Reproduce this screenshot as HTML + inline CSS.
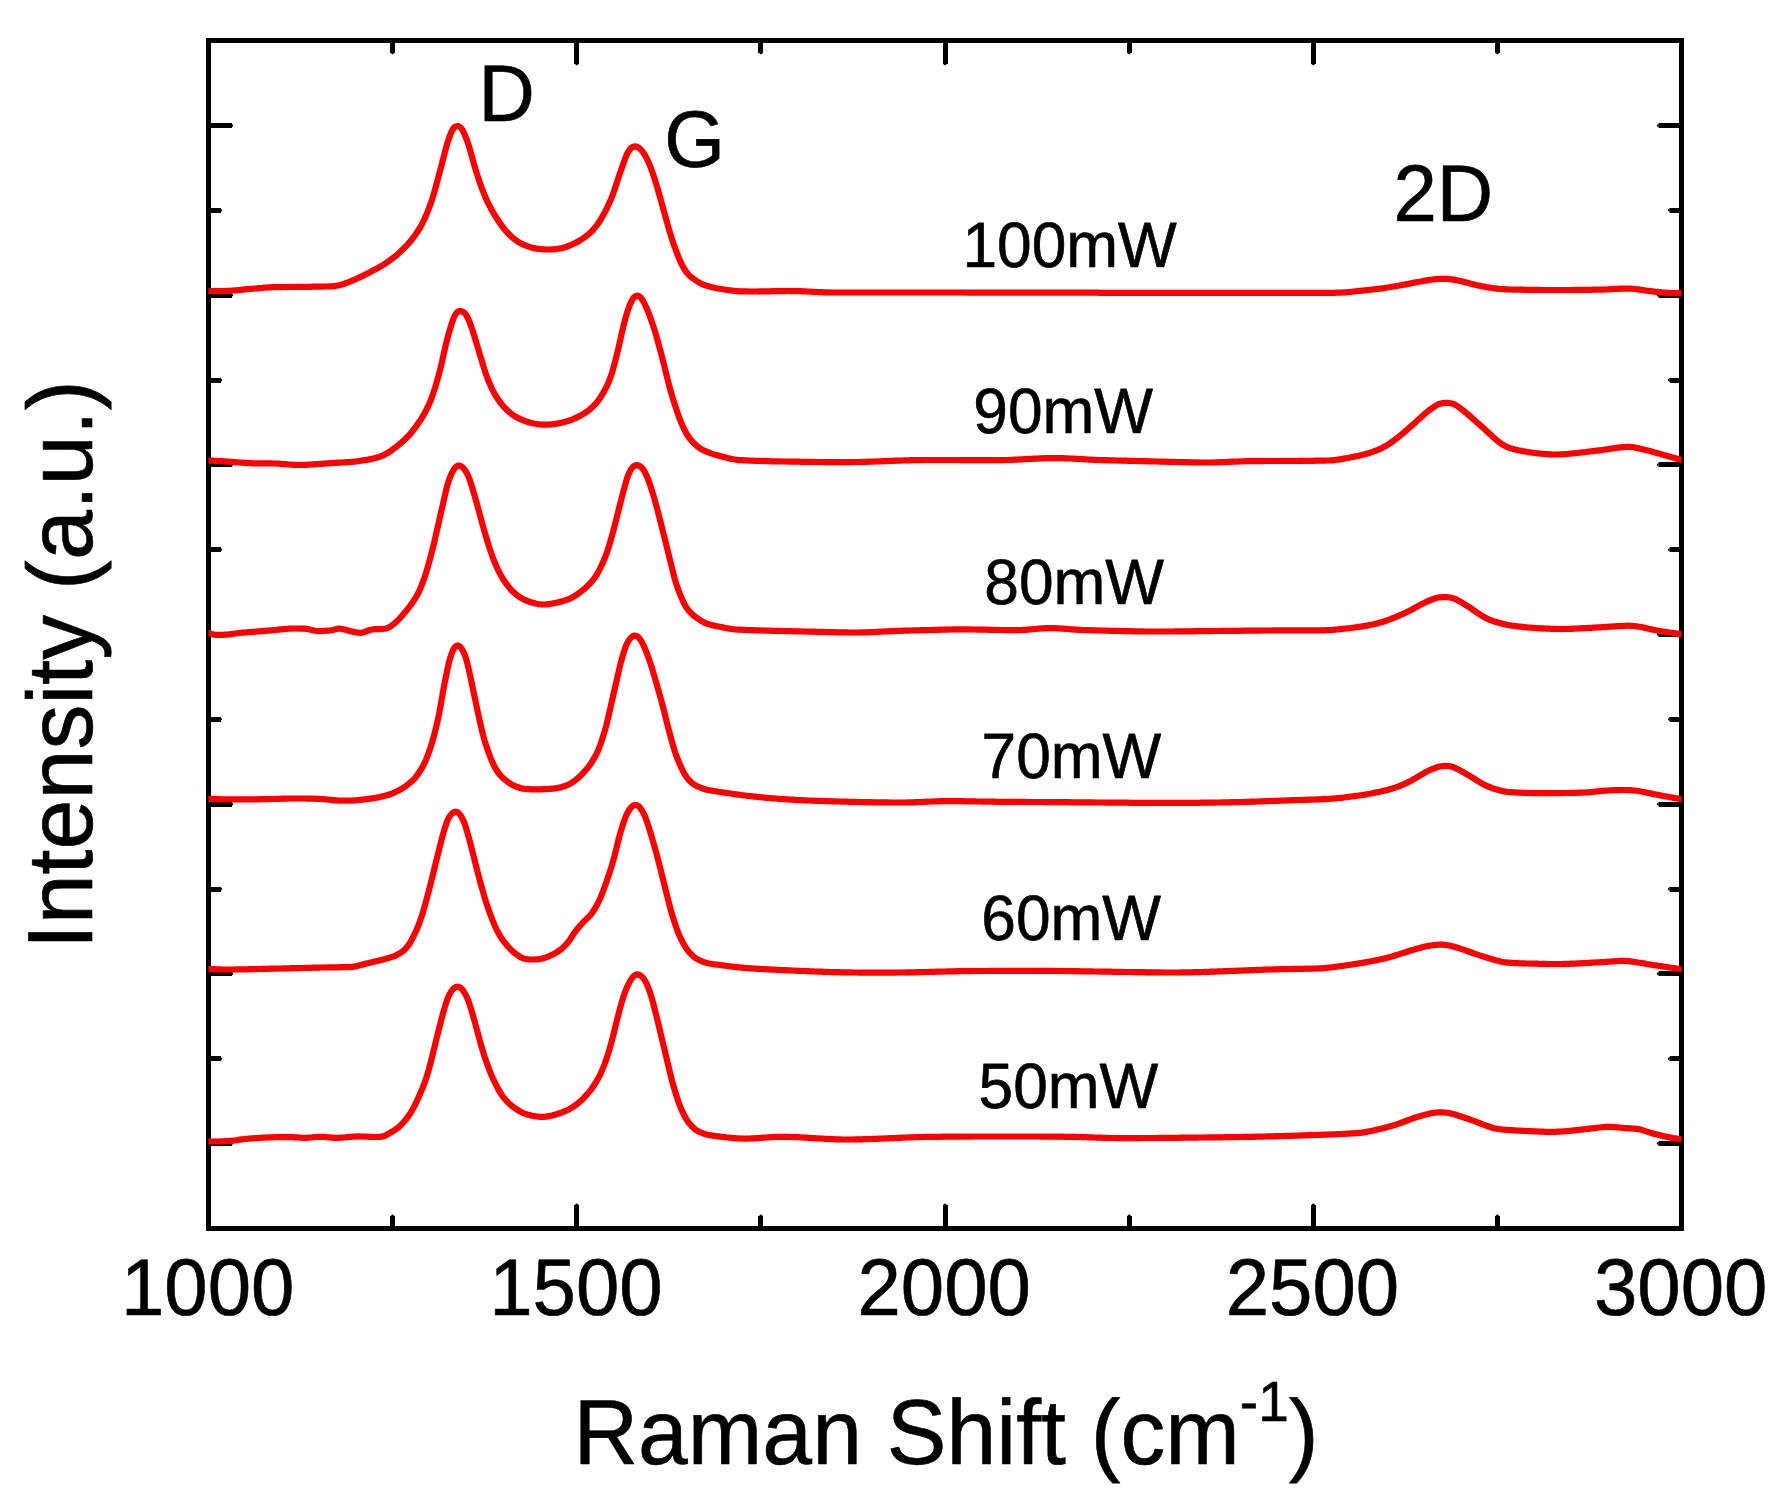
<!DOCTYPE html>
<html lang="en"><head><meta charset="utf-8"><title>Raman spectra</title>
<style>html,body{margin:0;padding:0;background:#fff}svg{display:block}</style></head>
<body>
<svg width="1792" height="1495" viewBox="0 0 1792 1495" shape-rendering="crispEdges" text-rendering="geometricPrecision">
<rect x="0" y="0" width="1792" height="1495" fill="#fff"/>
<path d="M208.5 40.7H1681.5V1228.1H208.5ZM576.75 40.7v23.0M576.75 1228.1v-23.0M945.00 40.7v23.0M945.00 1228.1v-23.0M1313.25 40.7v23.0M1313.25 1228.1v-23.0M392.62 40.7v12.0M392.62 1228.1v-12.0M760.88 40.7v12.0M760.88 1228.1v-12.0M1129.12 40.7v12.0M1129.12 1228.1v-12.0M1497.38 40.7v12.0M1497.38 1228.1v-12.0M208.5 125.50h23.0M1681.5 125.50h-23.0M208.5 295.17h23.0M1681.5 295.17h-23.0M208.5 464.83h23.0M1681.5 464.83h-23.0M208.5 634.50h23.0M1681.5 634.50h-23.0M208.5 804.17h23.0M1681.5 804.17h-23.0M208.5 973.83h23.0M1681.5 973.83h-23.0M208.5 1143.50h23.0M1681.5 1143.50h-23.0M208.5 210.33h12.0M1681.5 210.33h-12.0M208.5 380.00h12.0M1681.5 380.00h-12.0M208.5 549.67h12.0M1681.5 549.67h-12.0M208.5 719.33h12.0M1681.5 719.33h-12.0M208.5 889.00h12.0M1681.5 889.00h-12.0M208.5 1058.67h12.0M1681.5 1058.67h-12.0" fill="none" stroke="#000" stroke-width="5.0" stroke-linejoin="miter" stroke-linecap="butt"/>
<path d="M574.25 63.40h5.0l-2.5 2.2zM574.25 1205.40h5.0l-2.5 -2.2zM942.50 63.40h5.0l-2.5 2.2zM942.50 1205.40h5.0l-2.5 -2.2zM1310.75 63.40h5.0l-2.5 2.2zM1310.75 1205.40h5.0l-2.5 -2.2zM390.12 52.40h5.0l-2.5 2.2zM390.12 1216.40h5.0l-2.5 -2.2zM758.38 52.40h5.0l-2.5 2.2zM758.38 1216.40h5.0l-2.5 -2.2zM1126.62 52.40h5.0l-2.5 2.2zM1126.62 1216.40h5.0l-2.5 -2.2zM1494.88 52.40h5.0l-2.5 2.2zM1494.88 1216.40h5.0l-2.5 -2.2zM231.20 123.00v5.0l2.2 -2.5zM1658.80 123.00v5.0l-2.2 -2.5zM231.20 292.67v5.0l2.2 -2.5zM1658.80 292.67v5.0l-2.2 -2.5zM231.20 462.33v5.0l2.2 -2.5zM1658.80 462.33v5.0l-2.2 -2.5zM231.20 632.00v5.0l2.2 -2.5zM1658.80 632.00v5.0l-2.2 -2.5zM231.20 801.67v5.0l2.2 -2.5zM1658.80 801.67v5.0l-2.2 -2.5zM231.20 971.33v5.0l2.2 -2.5zM1658.80 971.33v5.0l-2.2 -2.5zM231.20 1141.00v5.0l2.2 -2.5zM1658.80 1141.00v5.0l-2.2 -2.5zM220.20 207.83v5.0l2.2 -2.5zM1669.80 207.83v5.0l-2.2 -2.5zM220.20 377.50v5.0l2.2 -2.5zM1669.80 377.50v5.0l-2.2 -2.5zM220.20 547.17v5.0l2.2 -2.5zM1669.80 547.17v5.0l-2.2 -2.5zM220.20 716.83v5.0l2.2 -2.5zM1669.80 716.83v5.0l-2.2 -2.5zM220.20 886.50v5.0l2.2 -2.5zM1669.80 886.50v5.0l-2.2 -2.5zM220.20 1056.17v5.0l2.2 -2.5zM1669.80 1056.17v5.0l-2.2 -2.5z" fill="#000" stroke="none" shape-rendering="geometricPrecision"/>
<clipPath id="plotclip"><rect x="208.5" y="40.7" width="1473.0" height="1187.3999999999999"/></clipPath>
<g clip-path="url(#plotclip)" fill="none" stroke="#f00" stroke-width="6.2" stroke-linejoin="round" stroke-linecap="butt" shape-rendering="geometricPrecision">
<polyline points="202.5,291.0 208.5,291.1 210.0,291.1 211.5,291.1 213.0,291.1 214.5,291.2 216.0,291.2 217.5,291.1 219.0,291.1 220.5,291.1 222.0,291.1 223.5,291.0 225.0,291.0 226.5,290.9 228.0,290.8 229.5,290.8 231.0,290.7 232.5,290.5 234.0,290.4 235.5,290.3 237.0,290.2 238.5,290.0 240.0,289.9 241.5,289.7 243.0,289.6 244.5,289.4 246.0,289.3 247.5,289.1 249.0,289.0 250.5,288.9 252.0,288.7 253.5,288.6 255.0,288.5 256.5,288.4 258.0,288.2 259.5,288.1 261.0,288.0 262.5,287.8 264.0,287.7 265.5,287.6 267.0,287.5 268.5,287.4 270.0,287.3 271.5,287.3 273.0,287.2 274.5,287.2 276.0,287.1 277.5,287.1 279.0,287.1 280.5,287.1 282.0,287.1 283.5,287.0 285.0,287.0 286.5,287.0 288.0,287.0 289.5,287.0 291.0,287.0 292.5,287.0 294.0,287.0 295.5,287.0 297.0,286.9 298.5,286.9 300.0,286.9 301.5,286.9 303.0,286.9 304.5,286.8 306.0,286.8 307.5,286.8 309.0,286.8 310.5,286.8 312.0,286.7 313.5,286.7 315.0,286.7 316.5,286.7 318.0,286.6 319.5,286.6 321.0,286.6 322.5,286.6 324.0,286.5 325.5,286.5 327.0,286.5 328.5,286.4 330.0,286.4 331.5,286.3 333.0,286.2 334.5,286.1 336.0,285.8 337.5,285.6 339.0,285.2 340.5,284.9 342.0,284.4 343.5,284.0 345.0,283.5 346.5,282.9 348.0,282.4 349.5,281.8 351.0,281.2 352.5,280.5 354.0,279.9 355.5,279.2 357.0,278.5 358.5,277.8 360.0,277.1 361.5,276.4 363.0,275.7 364.5,274.9 366.0,274.2 367.5,273.4 369.0,272.7 370.5,271.9 372.0,271.1 373.5,270.3 375.0,269.5 376.5,268.7 378.0,267.9 379.5,267.0 381.0,266.2 382.5,265.3 384.0,264.4 385.5,263.4 387.0,262.4 388.5,261.3 390.0,260.2 391.5,259.1 393.0,258.0 394.5,256.8 396.0,255.6 397.5,254.3 399.0,252.9 400.5,251.5 402.0,250.1 403.5,248.6 405.0,247.1 406.5,245.6 408.0,244.0 409.5,242.3 411.0,240.5 412.5,238.6 414.0,236.6 415.5,234.5 417.0,232.4 418.5,230.2 420.0,227.7 421.5,224.9 423.0,221.9 424.5,218.8 426.0,215.4 427.5,211.9 429.0,208.2 430.5,204.2 432.0,199.7 433.5,194.8 435.0,189.5 436.5,184.1 438.0,178.5 439.5,172.9 441.0,167.3 442.5,161.4 444.0,155.6 445.5,149.8 447.0,144.4 448.5,139.6 450.0,135.4 451.5,131.6 453.0,128.9 454.5,127.1 456.0,126.2 457.5,126.0 459.0,126.4 460.5,127.5 462.0,129.3 463.5,131.9 465.0,135.3 466.5,139.1 468.0,143.3 469.5,148.0 471.0,153.3 472.5,158.8 474.0,164.3 475.5,169.3 477.0,174.1 478.5,178.7 480.0,183.1 481.5,187.3 483.0,191.2 484.5,195.0 486.0,198.5 487.5,201.8 489.0,204.8 490.5,207.7 492.0,210.4 493.5,213.1 495.0,215.6 496.5,218.0 498.0,220.3 499.5,222.5 501.0,224.7 502.5,226.7 504.0,228.7 505.5,230.5 507.0,232.2 508.5,233.8 510.0,235.3 511.5,236.7 513.0,238.0 514.5,239.2 516.0,240.3 517.5,241.4 519.0,242.3 520.5,243.2 522.0,243.9 523.5,244.6 525.0,245.2 526.5,245.8 528.0,246.4 529.5,246.9 531.0,247.4 532.5,247.8 534.0,248.1 535.5,248.4 537.0,248.6 538.5,248.9 540.0,249.0 541.5,249.2 543.0,249.3 544.5,249.4 546.0,249.5 547.5,249.5 549.0,249.5 550.5,249.5 552.0,249.4 553.5,249.3 555.0,249.2 556.5,249.0 558.0,248.8 559.5,248.5 561.0,248.2 562.5,247.9 564.0,247.5 565.5,247.1 567.0,246.5 568.5,246.0 570.0,245.3 571.5,244.7 573.0,244.0 574.5,243.3 576.0,242.6 577.5,241.8 579.0,240.9 580.5,240.0 582.0,239.0 583.5,238.0 585.0,236.9 586.5,235.8 588.0,234.6 589.5,233.4 591.0,232.0 592.5,230.5 594.0,228.8 595.5,227.0 597.0,225.0 598.5,222.9 600.0,220.7 601.5,218.2 603.0,215.5 604.5,212.7 606.0,209.8 607.5,206.8 609.0,203.6 610.5,200.3 612.0,196.6 613.5,192.6 615.0,188.2 616.5,183.7 618.0,179.1 619.5,174.6 621.0,170.2 622.5,165.9 624.0,161.7 625.5,157.7 627.0,154.1 628.5,151.4 630.0,149.3 631.5,147.8 633.0,146.8 634.5,146.4 636.0,146.5 637.5,147.1 639.0,147.9 640.5,149.2 642.0,150.9 643.5,153.0 645.0,155.3 646.5,158.1 648.0,161.2 649.5,164.6 651.0,168.3 652.5,172.5 654.0,177.0 655.5,181.7 657.0,186.6 658.5,191.8 660.0,197.2 661.5,202.5 663.0,207.9 664.5,213.3 666.0,218.7 667.5,224.0 669.0,229.4 670.5,234.6 672.0,239.3 673.5,243.7 675.0,247.8 676.5,252.0 678.0,255.9 679.5,259.6 681.0,263.0 682.5,265.9 684.0,268.5 685.5,270.8 687.0,272.8 688.5,274.6 690.0,276.1 691.5,277.3 693.0,278.4 694.5,279.5 696.0,280.5 697.5,281.5 699.0,282.5 700.5,283.3 702.0,284.1 703.5,284.7 705.0,285.2 706.5,285.6 708.0,286.1 709.5,286.5 711.0,286.9 712.5,287.3 714.0,287.6 715.5,288.0 717.0,288.3 718.5,288.5 720.0,288.8 721.5,289.0 723.0,289.3 724.5,289.5 726.0,289.8 727.5,290.0 729.0,290.2 730.5,290.4 732.0,290.6 733.5,290.8 735.0,291.0 736.5,291.1 738.0,291.2 739.5,291.3 741.0,291.3 742.5,291.4 744.0,291.4 745.5,291.4 747.0,291.4 748.5,291.5 750.0,291.5 751.5,291.5 753.0,291.5 754.5,291.5 756.0,291.5 757.5,291.5 759.0,291.4 760.5,291.4 762.0,291.4 763.5,291.4 765.0,291.4 766.5,291.3 768.0,291.3 769.5,291.3 771.0,291.3 772.5,291.2 774.0,291.2 775.5,291.2 777.0,291.2 778.5,291.1 780.0,291.1 781.5,291.1 783.0,291.1 784.5,291.1 786.0,291.1 787.5,291.0 789.0,291.0 790.5,291.1 792.0,291.1 793.5,291.1 795.0,291.1 796.5,291.1 798.0,291.1 799.5,291.2 801.0,291.2 802.5,291.3 804.0,291.3 805.5,291.4 807.0,291.5 808.5,291.5 810.0,291.6 811.5,291.7 813.0,291.8 814.5,291.8 816.0,291.9 817.5,292.0 819.0,292.1 820.5,292.1 822.0,292.2 823.5,292.3 825.0,292.3 826.5,292.4 828.0,292.4 829.5,292.4 831.0,292.5 832.5,292.5 834.0,292.5 835.5,292.5 837.0,292.5 838.5,292.5 840.0,292.5 841.5,292.5 843.0,292.5 844.5,292.5 846.0,292.5 847.5,292.5 849.0,292.5 850.5,292.5 852.0,292.5 853.5,292.5 855.0,292.5 856.5,292.5 858.0,292.5 859.5,292.5 861.0,292.5 862.5,292.5 864.0,292.5 865.5,292.5 867.0,292.5 868.5,292.5 870.0,292.5 871.5,292.5 873.0,292.5 874.5,292.5 876.0,292.5 877.5,292.5 879.0,292.5 880.5,292.5 882.0,292.5 883.5,292.5 885.0,292.5 886.5,292.5 888.0,292.5 889.5,292.5 891.0,292.5 892.5,292.5 894.0,292.5 895.5,292.5 897.0,292.5 898.5,292.5 900.0,292.5 901.5,292.5 903.0,292.5 904.5,292.5 906.0,292.5 907.5,292.5 909.0,292.5 910.5,292.5 912.0,292.5 913.5,292.5 915.0,292.5 916.5,292.5 918.0,292.5 919.5,292.5 921.0,292.5 922.5,292.5 924.0,292.5 925.5,292.5 927.0,292.5 928.5,292.5 930.0,292.5 931.5,292.5 933.0,292.5 934.5,292.5 936.0,292.5 937.5,292.5 939.0,292.5 940.5,292.5 942.0,292.5 943.5,292.5 945.0,292.5 946.5,292.5 948.0,292.5 949.5,292.5 951.0,292.5 952.5,292.5 954.0,292.5 955.5,292.5 957.0,292.5 958.5,292.5 960.0,292.5 961.5,292.5 963.0,292.5 964.5,292.5 966.0,292.5 967.5,292.6 969.0,292.6 970.5,292.6 972.0,292.6 973.5,292.6 975.0,292.6 976.5,292.6 978.0,292.6 979.5,292.6 981.0,292.6 982.5,292.6 984.0,292.6 985.5,292.6 987.0,292.6 988.5,292.6 990.0,292.6 991.5,292.6 993.0,292.6 994.5,292.6 996.0,292.6 997.5,292.6 999.0,292.6 1000.5,292.6 1002.0,292.6 1003.5,292.6 1005.0,292.6 1006.5,292.6 1008.0,292.6 1009.5,292.6 1011.0,292.6 1012.5,292.6 1014.0,292.6 1015.5,292.6 1017.0,292.6 1018.5,292.6 1020.0,292.6 1021.5,292.6 1023.0,292.6 1024.5,292.6 1026.0,292.6 1027.5,292.6 1029.0,292.6 1030.5,292.6 1032.0,292.7 1033.5,292.7 1035.0,292.7 1036.5,292.7 1038.0,292.7 1039.5,292.7 1041.0,292.7 1042.5,292.7 1044.0,292.7 1045.5,292.7 1047.0,292.7 1048.5,292.7 1050.0,292.7 1051.5,292.7 1053.0,292.7 1054.5,292.7 1056.0,292.7 1057.5,292.7 1059.0,292.7 1060.5,292.7 1062.0,292.7 1063.5,292.7 1065.0,292.7 1066.5,292.7 1068.0,292.7 1069.5,292.7 1071.0,292.7 1072.5,292.7 1074.0,292.7 1075.5,292.7 1077.0,292.7 1078.5,292.7 1080.0,292.7 1081.5,292.7 1083.0,292.7 1084.5,292.7 1086.0,292.7 1087.5,292.7 1089.0,292.7 1090.5,292.7 1092.0,292.7 1093.5,292.7 1095.0,292.7 1096.5,292.7 1098.0,292.7 1099.5,292.8 1101.0,292.8 1102.5,292.8 1104.0,292.8 1105.5,292.8 1107.0,292.8 1108.5,292.8 1110.0,292.8 1111.5,292.8 1113.0,292.8 1114.5,292.8 1116.0,292.8 1117.5,292.8 1119.0,292.8 1120.5,292.8 1122.0,292.8 1123.5,292.8 1125.0,292.8 1126.5,292.8 1128.0,292.8 1129.5,292.8 1131.0,292.8 1132.5,292.8 1134.0,292.8 1135.5,292.8 1137.0,292.8 1138.5,292.8 1140.0,292.8 1141.5,292.8 1143.0,292.8 1144.5,292.8 1146.0,292.8 1147.5,292.8 1149.0,292.8 1150.5,292.8 1152.0,292.8 1153.5,292.8 1155.0,292.8 1156.5,292.8 1158.0,292.8 1159.5,292.8 1161.0,292.8 1162.5,292.8 1164.0,292.8 1165.5,292.8 1167.0,292.8 1168.5,292.8 1170.0,292.8 1171.5,292.8 1173.0,292.8 1174.5,292.8 1176.0,292.8 1177.5,292.8 1179.0,292.8 1180.5,292.8 1182.0,292.8 1183.5,292.8 1185.0,292.8 1186.5,292.8 1188.0,292.8 1189.5,292.9 1191.0,292.9 1192.5,292.9 1194.0,292.9 1195.5,292.9 1197.0,292.9 1198.5,292.9 1200.0,292.9 1201.5,292.9 1203.0,292.9 1204.5,292.9 1206.0,292.9 1207.5,292.9 1209.0,292.9 1210.5,292.9 1212.0,292.9 1213.5,292.9 1215.0,292.9 1216.5,292.9 1218.0,292.9 1219.5,292.9 1221.0,292.9 1222.5,292.9 1224.0,292.9 1225.5,292.9 1227.0,292.9 1228.5,292.9 1230.0,292.9 1231.5,292.9 1233.0,292.9 1234.5,292.9 1236.0,292.9 1237.5,292.9 1239.0,292.9 1240.5,292.9 1242.0,292.9 1243.5,292.9 1245.0,292.9 1246.5,292.9 1248.0,292.9 1249.5,292.9 1251.0,292.9 1252.5,292.9 1254.0,292.9 1255.5,292.9 1257.0,292.9 1258.5,292.9 1260.0,292.9 1261.5,292.9 1263.0,292.9 1264.5,292.9 1266.0,292.9 1267.5,292.9 1269.0,292.9 1270.5,292.9 1272.0,292.9 1273.5,292.9 1275.0,292.9 1276.5,292.9 1278.0,292.9 1279.5,292.9 1281.0,292.9 1282.5,292.9 1284.0,292.9 1285.5,292.9 1287.0,292.9 1288.5,292.9 1290.0,292.9 1291.5,292.9 1293.0,292.9 1294.5,292.9 1296.0,292.9 1297.5,292.9 1299.0,292.9 1300.5,292.9 1302.0,292.9 1303.5,292.9 1305.0,292.9 1306.5,292.9 1308.0,292.9 1309.5,292.9 1311.0,292.9 1312.5,292.9 1314.0,292.9 1315.5,292.9 1317.0,292.9 1318.5,292.9 1320.0,292.9 1321.5,292.9 1323.0,292.9 1324.5,292.9 1326.0,292.9 1327.5,292.9 1329.0,292.9 1330.5,292.8 1332.0,292.8 1333.5,292.8 1335.0,292.8 1336.5,292.7 1338.0,292.7 1339.5,292.7 1341.0,292.6 1342.5,292.5 1344.0,292.4 1345.5,292.3 1347.0,292.2 1348.5,292.0 1350.0,291.9 1351.5,291.7 1353.0,291.5 1354.5,291.4 1356.0,291.2 1357.5,291.0 1359.0,290.9 1360.5,290.8 1362.0,290.6 1363.5,290.5 1365.0,290.3 1366.5,290.1 1368.0,290.0 1369.5,289.8 1371.0,289.7 1372.5,289.5 1374.0,289.3 1375.5,289.2 1377.0,289.0 1378.5,288.8 1380.0,288.6 1381.5,288.4 1383.0,288.2 1384.5,288.0 1386.0,287.7 1387.5,287.5 1389.0,287.3 1390.5,287.0 1392.0,286.8 1393.5,286.5 1395.0,286.3 1396.5,286.0 1398.0,285.7 1399.5,285.5 1401.0,285.2 1402.5,284.9 1404.0,284.7 1405.5,284.4 1407.0,284.1 1408.5,283.8 1410.0,283.5 1411.5,283.2 1413.0,282.9 1414.5,282.6 1416.0,282.3 1417.5,282.0 1419.0,281.7 1420.5,281.5 1422.0,281.2 1423.5,280.9 1425.0,280.6 1426.5,280.4 1428.0,280.1 1429.5,279.9 1431.0,279.7 1432.5,279.5 1434.0,279.3 1435.5,279.2 1437.0,279.1 1438.5,279.0 1440.0,278.9 1441.5,278.8 1443.0,278.8 1444.5,278.8 1446.0,278.8 1447.5,278.9 1449.0,279.1 1450.5,279.2 1452.0,279.4 1453.5,279.6 1455.0,279.9 1456.5,280.2 1458.0,280.5 1459.5,280.8 1461.0,281.1 1462.5,281.5 1464.0,281.9 1465.5,282.2 1467.0,282.6 1468.5,283.1 1470.0,283.5 1471.5,283.9 1473.0,284.3 1474.5,284.6 1476.0,285.0 1477.5,285.3 1479.0,285.6 1480.5,285.9 1482.0,286.2 1483.5,286.5 1485.0,286.8 1486.5,287.1 1488.0,287.3 1489.5,287.6 1491.0,287.8 1492.5,288.0 1494.0,288.2 1495.5,288.4 1497.0,288.6 1498.5,288.7 1500.0,288.9 1501.5,289.0 1503.0,289.1 1504.5,289.2 1506.0,289.3 1507.5,289.4 1509.0,289.5 1510.5,289.5 1512.0,289.6 1513.5,289.6 1515.0,289.6 1516.5,289.7 1518.0,289.7 1519.5,289.7 1521.0,289.7 1522.5,289.7 1524.0,289.8 1525.5,289.8 1527.0,289.8 1528.5,289.8 1530.0,289.8 1531.5,289.9 1533.0,289.9 1534.5,289.9 1536.0,289.9 1537.5,289.9 1539.0,289.9 1540.5,289.9 1542.0,290.0 1543.5,290.0 1545.0,290.0 1546.5,290.0 1548.0,290.0 1549.5,290.0 1551.0,290.0 1552.5,290.0 1554.0,290.0 1555.5,290.0 1557.0,290.0 1558.5,290.0 1560.0,290.0 1561.5,290.0 1563.0,290.0 1564.5,290.0 1566.0,290.0 1567.5,290.0 1569.0,290.0 1570.5,290.0 1572.0,289.9 1573.5,289.9 1575.0,289.9 1576.5,289.9 1578.0,289.9 1579.5,289.9 1581.0,289.9 1582.5,289.9 1584.0,289.9 1585.5,289.8 1587.0,289.8 1588.5,289.8 1590.0,289.8 1591.5,289.8 1593.0,289.7 1594.5,289.7 1596.0,289.7 1597.5,289.7 1599.0,289.7 1600.5,289.6 1602.0,289.6 1603.5,289.6 1605.0,289.5 1606.5,289.5 1608.0,289.4 1609.5,289.3 1611.0,289.2 1612.5,289.1 1614.0,289.0 1615.5,288.9 1617.0,288.9 1618.5,288.8 1620.0,288.7 1621.5,288.7 1623.0,288.6 1624.5,288.6 1626.0,288.6 1627.5,288.6 1629.0,288.6 1630.5,288.7 1632.0,288.7 1633.5,288.9 1635.0,289.0 1636.5,289.2 1638.0,289.4 1639.5,289.6 1641.0,289.9 1642.5,290.1 1644.0,290.3 1645.5,290.5 1647.0,290.7 1648.5,290.9 1650.0,291.1 1651.5,291.2 1653.0,291.4 1654.5,291.6 1656.0,291.8 1657.5,291.9 1659.0,292.1 1660.5,292.3 1662.0,292.4 1663.5,292.6 1665.0,292.7 1666.5,292.8 1668.0,292.9 1669.5,293.0 1671.0,293.1 1672.5,293.1 1674.0,293.1 1675.5,293.2 1677.0,293.2 1678.5,293.1 1680.0,293.1 1681.5,293.1 1687.5,293.0"/>
<polyline points="202.5,460.2 208.5,460.5 210.0,460.6 211.5,460.6 213.0,460.7 214.5,460.8 216.0,460.9 217.5,461.0 219.0,461.0 220.5,461.1 222.0,461.2 223.5,461.3 225.0,461.4 226.5,461.5 228.0,461.6 229.5,461.7 231.0,461.8 232.5,461.9 234.0,462.0 235.5,462.1 237.0,462.3 238.5,462.4 240.0,462.5 241.5,462.6 243.0,462.7 244.5,462.8 246.0,462.9 247.5,463.0 249.0,463.1 250.5,463.2 252.0,463.3 253.5,463.3 255.0,463.4 256.5,463.4 258.0,463.4 259.5,463.4 261.0,463.4 262.5,463.4 264.0,463.4 265.5,463.4 267.0,463.4 268.5,463.4 270.0,463.4 271.5,463.4 273.0,463.5 274.5,463.5 276.0,463.5 277.5,463.6 279.0,463.7 280.5,463.8 282.0,463.9 283.5,464.0 285.0,464.1 286.5,464.2 288.0,464.4 289.5,464.5 291.0,464.6 292.5,464.7 294.0,464.8 295.5,464.9 297.0,465.0 298.5,465.0 300.0,465.0 301.5,465.0 303.0,464.9 304.5,464.9 306.0,464.8 307.5,464.7 309.0,464.6 310.5,464.5 312.0,464.4 313.5,464.3 315.0,464.2 316.5,464.1 318.0,464.0 319.5,463.9 321.0,463.8 322.5,463.7 324.0,463.6 325.5,463.5 327.0,463.4 328.5,463.3 330.0,463.2 331.5,463.1 333.0,463.0 334.5,462.9 336.0,462.8 337.5,462.7 339.0,462.6 340.5,462.6 342.0,462.5 343.5,462.4 345.0,462.3 346.5,462.2 348.0,462.1 349.5,462.0 351.0,461.9 352.5,461.8 354.0,461.6 355.5,461.5 357.0,461.3 358.5,461.1 360.0,460.8 361.5,460.6 363.0,460.4 364.5,460.2 366.0,459.9 367.5,459.7 369.0,459.4 370.5,459.2 372.0,458.8 373.5,458.5 375.0,458.1 376.5,457.7 378.0,457.2 379.5,456.8 381.0,456.2 382.5,455.6 384.0,454.9 385.5,454.1 387.0,453.3 388.5,452.3 390.0,451.3 391.5,450.3 393.0,449.2 394.5,448.1 396.0,447.0 397.5,445.9 399.0,444.7 400.5,443.4 402.0,442.1 403.5,440.7 405.0,439.3 406.5,437.8 408.0,436.3 409.5,434.7 411.0,432.9 412.5,431.1 414.0,429.1 415.5,427.1 417.0,425.0 418.5,422.8 420.0,420.7 421.5,418.4 423.0,415.9 424.5,413.3 426.0,410.5 427.5,407.5 429.0,404.4 430.5,400.8 432.0,396.8 433.5,392.5 435.0,387.9 436.5,382.9 438.0,377.7 439.5,372.0 441.0,366.1 442.5,359.5 444.0,352.7 445.5,346.1 447.0,340.0 448.5,334.4 450.0,329.1 451.5,324.1 453.0,319.7 454.5,316.1 456.0,313.5 457.5,311.9 459.0,311.1 460.5,311.0 462.0,311.4 463.5,312.1 465.0,313.4 466.5,315.5 468.0,318.4 469.5,321.8 471.0,325.8 472.5,330.4 474.0,335.2 475.5,340.0 477.0,344.8 478.5,349.8 480.0,354.8 481.5,359.8 483.0,364.8 484.5,369.7 486.0,374.2 487.5,378.3 489.0,382.1 490.5,385.6 492.0,388.8 493.5,391.8 495.0,394.5 496.5,396.9 498.0,399.2 499.5,401.3 501.0,403.3 502.5,405.3 504.0,407.0 505.5,408.6 507.0,410.0 508.5,411.4 510.0,412.7 511.5,413.9 513.0,415.0 514.5,416.0 516.0,416.9 517.5,417.7 519.0,418.4 520.5,419.1 522.0,419.8 523.5,420.4 525.0,421.0 526.5,421.5 528.0,422.0 529.5,422.5 531.0,422.8 532.5,423.2 534.0,423.5 535.5,423.7 537.0,424.0 538.5,424.2 540.0,424.4 541.5,424.5 543.0,424.6 544.5,424.6 546.0,424.6 547.5,424.6 549.0,424.5 550.5,424.4 552.0,424.3 553.5,424.1 555.0,423.9 556.5,423.7 558.0,423.4 559.5,423.2 561.0,422.8 562.5,422.5 564.0,422.1 565.5,421.7 567.0,421.2 568.5,420.8 570.0,420.3 571.5,419.8 573.0,419.2 574.5,418.5 576.0,417.9 577.5,417.1 579.0,416.3 580.5,415.5 582.0,414.7 583.5,413.8 585.0,412.9 586.5,411.9 588.0,410.8 589.5,409.6 591.0,408.3 592.5,406.9 594.0,405.4 595.5,403.9 597.0,402.2 598.5,400.3 600.0,398.1 601.5,395.7 603.0,393.2 604.5,390.6 606.0,387.8 607.5,384.7 609.0,381.2 610.5,377.2 612.0,372.6 613.5,367.4 615.0,361.9 616.5,356.0 618.0,349.9 619.5,343.4 621.0,336.6 622.5,329.9 624.0,323.7 625.5,318.1 627.0,313.0 628.5,308.4 630.0,304.3 631.5,301.1 633.0,298.6 634.5,296.8 636.0,295.8 637.5,295.6 639.0,296.2 640.5,297.3 642.0,299.2 643.5,301.8 645.0,304.7 646.5,307.9 648.0,311.5 649.5,315.4 651.0,319.5 652.5,323.8 654.0,328.3 655.5,333.2 657.0,338.5 658.5,343.9 660.0,349.4 661.5,355.0 663.0,360.7 664.5,366.7 666.0,372.9 667.5,379.0 669.0,384.9 670.5,390.4 672.0,395.6 673.5,400.5 675.0,405.2 676.5,409.8 678.0,414.2 679.5,418.4 681.0,422.2 682.5,425.8 684.0,429.0 685.5,431.8 687.0,434.5 688.5,436.8 690.0,438.8 691.5,440.6 693.0,442.2 694.5,443.7 696.0,445.1 697.5,446.5 699.0,447.7 700.5,448.7 702.0,449.6 703.5,450.3 705.0,451.0 706.5,451.6 708.0,452.2 709.5,452.8 711.0,453.4 712.5,453.9 714.0,454.4 715.5,454.8 717.0,455.2 718.5,455.6 720.0,456.0 721.5,456.4 723.0,456.8 724.5,457.2 726.0,457.6 727.5,458.0 729.0,458.3 730.5,458.7 732.0,459.0 733.5,459.3 735.0,459.5 736.5,459.8 738.0,459.9 739.5,460.1 741.0,460.1 742.5,460.2 744.0,460.3 745.5,460.4 747.0,460.4 748.5,460.5 750.0,460.6 751.5,460.6 753.0,460.7 754.5,460.8 756.0,460.8 757.5,460.9 759.0,460.9 760.5,461.0 762.0,461.0 763.5,461.1 765.0,461.1 766.5,461.2 768.0,461.2 769.5,461.2 771.0,461.3 772.5,461.3 774.0,461.3 775.5,461.4 777.0,461.4 778.5,461.4 780.0,461.4 781.5,461.5 783.0,461.5 784.5,461.5 786.0,461.5 787.5,461.6 789.0,461.6 790.5,461.6 792.0,461.6 793.5,461.6 795.0,461.7 796.5,461.7 798.0,461.7 799.5,461.7 801.0,461.8 802.5,461.8 804.0,461.8 805.5,461.8 807.0,461.8 808.5,461.9 810.0,461.9 811.5,461.9 813.0,461.9 814.5,461.9 816.0,462.0 817.5,462.0 819.0,462.0 820.5,462.0 822.0,462.0 823.5,462.0 825.0,462.1 826.5,462.1 828.0,462.1 829.5,462.1 831.0,462.1 832.5,462.1 834.0,462.1 835.5,462.1 837.0,462.1 838.5,462.1 840.0,462.1 841.5,462.1 843.0,462.1 844.5,462.1 846.0,462.1 847.5,462.1 849.0,462.1 850.5,462.1 852.0,462.1 853.5,462.1 855.0,462.0 856.5,462.0 858.0,462.0 859.5,462.0 861.0,461.9 862.5,461.9 864.0,461.9 865.5,461.8 867.0,461.8 868.5,461.7 870.0,461.7 871.5,461.6 873.0,461.6 874.5,461.5 876.0,461.5 877.5,461.4 879.0,461.4 880.5,461.3 882.0,461.2 883.5,461.2 885.0,461.1 886.5,461.1 888.0,461.0 889.5,460.9 891.0,460.9 892.5,460.8 894.0,460.8 895.5,460.7 897.0,460.7 898.5,460.6 900.0,460.6 901.5,460.5 903.0,460.5 904.5,460.4 906.0,460.4 907.5,460.3 909.0,460.3 910.5,460.2 912.0,460.2 913.5,460.2 915.0,460.1 916.5,460.1 918.0,460.1 919.5,460.1 921.0,460.1 922.5,460.0 924.0,460.0 925.5,460.0 927.0,460.0 928.5,460.0 930.0,460.0 931.5,460.0 933.0,460.0 934.5,460.0 936.0,460.0 937.5,460.0 939.0,460.0 940.5,460.0 942.0,460.0 943.5,460.0 945.0,460.0 946.5,460.0 948.0,460.0 949.5,460.0 951.0,460.0 952.5,460.0 954.0,460.0 955.5,460.0 957.0,460.0 958.5,460.0 960.0,460.1 961.5,460.1 963.0,460.1 964.5,460.1 966.0,460.1 967.5,460.1 969.0,460.1 970.5,460.1 972.0,460.1 973.5,460.1 975.0,460.1 976.5,460.1 978.0,460.1 979.5,460.2 981.0,460.2 982.5,460.2 984.0,460.2 985.5,460.2 987.0,460.2 988.5,460.2 990.0,460.2 991.5,460.2 993.0,460.2 994.5,460.1 996.0,460.1 997.5,460.1 999.0,460.1 1000.5,460.1 1002.0,460.1 1003.5,460.1 1005.0,460.0 1006.5,460.0 1008.0,460.0 1009.5,459.9 1011.0,459.9 1012.5,459.8 1014.0,459.7 1015.5,459.7 1017.0,459.6 1018.5,459.5 1020.0,459.4 1021.5,459.4 1023.0,459.3 1024.5,459.2 1026.0,459.1 1027.5,459.0 1029.0,459.0 1030.5,458.9 1032.0,458.8 1033.5,458.7 1035.0,458.6 1036.5,458.6 1038.0,458.5 1039.5,458.4 1041.0,458.4 1042.5,458.3 1044.0,458.3 1045.5,458.2 1047.0,458.2 1048.5,458.1 1050.0,458.1 1051.5,458.1 1053.0,458.1 1054.5,458.1 1056.0,458.1 1057.5,458.1 1059.0,458.1 1060.5,458.1 1062.0,458.2 1063.5,458.2 1065.0,458.3 1066.5,458.3 1068.0,458.4 1069.5,458.5 1071.0,458.5 1072.5,458.6 1074.0,458.7 1075.5,458.8 1077.0,458.9 1078.5,459.0 1080.0,459.0 1081.5,459.1 1083.0,459.2 1084.5,459.3 1086.0,459.4 1087.5,459.5 1089.0,459.6 1090.5,459.6 1092.0,459.7 1093.5,459.8 1095.0,459.9 1096.5,459.9 1098.0,460.0 1099.5,460.0 1101.0,460.1 1102.5,460.1 1104.0,460.2 1105.5,460.2 1107.0,460.2 1108.5,460.3 1110.0,460.3 1111.5,460.4 1113.0,460.4 1114.5,460.4 1116.0,460.5 1117.5,460.5 1119.0,460.6 1120.5,460.6 1122.0,460.6 1123.5,460.7 1125.0,460.7 1126.5,460.7 1128.0,460.8 1129.5,460.8 1131.0,460.9 1132.5,460.9 1134.0,460.9 1135.5,461.0 1137.0,461.0 1138.5,461.1 1140.0,461.1 1141.5,461.1 1143.0,461.2 1144.5,461.2 1146.0,461.2 1147.5,461.3 1149.0,461.3 1150.5,461.4 1152.0,461.4 1153.5,461.4 1155.0,461.5 1156.5,461.5 1158.0,461.5 1159.5,461.6 1161.0,461.6 1162.5,461.7 1164.0,461.7 1165.5,461.7 1167.0,461.8 1168.5,461.8 1170.0,461.8 1171.5,461.9 1173.0,461.9 1174.5,461.9 1176.0,462.0 1177.5,462.0 1179.0,462.0 1180.5,462.1 1182.0,462.1 1183.5,462.2 1185.0,462.2 1186.5,462.2 1188.0,462.2 1189.5,462.3 1191.0,462.3 1192.5,462.3 1194.0,462.4 1195.5,462.4 1197.0,462.4 1198.5,462.4 1200.0,462.5 1201.5,462.5 1203.0,462.5 1204.5,462.5 1206.0,462.5 1207.5,462.5 1209.0,462.5 1210.5,462.5 1212.0,462.5 1213.5,462.4 1215.0,462.4 1216.5,462.3 1218.0,462.3 1219.5,462.2 1221.0,462.2 1222.5,462.1 1224.0,462.1 1225.5,462.0 1227.0,461.9 1228.5,461.9 1230.0,461.8 1231.5,461.7 1233.0,461.7 1234.5,461.6 1236.0,461.6 1237.5,461.5 1239.0,461.4 1240.5,461.4 1242.0,461.3 1243.5,461.3 1245.0,461.2 1246.5,461.2 1248.0,461.2 1249.5,461.1 1251.0,461.1 1252.5,461.1 1254.0,461.1 1255.5,461.1 1257.0,461.1 1258.5,461.1 1260.0,461.1 1261.5,461.1 1263.0,461.1 1264.5,461.0 1266.0,461.0 1267.5,461.0 1269.0,461.0 1270.5,461.0 1272.0,461.0 1273.5,461.0 1275.0,461.0 1276.5,461.0 1278.0,461.0 1279.5,461.0 1281.0,461.0 1282.5,461.0 1284.0,461.0 1285.5,461.0 1287.0,461.0 1288.5,461.0 1290.0,461.0 1291.5,461.0 1293.0,461.0 1294.5,461.0 1296.0,461.0 1297.5,461.0 1299.0,460.9 1300.5,460.9 1302.0,460.9 1303.5,460.9 1305.0,460.9 1306.5,460.9 1308.0,460.8 1309.5,460.8 1311.0,460.8 1312.5,460.8 1314.0,460.8 1315.5,460.7 1317.0,460.7 1318.5,460.7 1320.0,460.7 1321.5,460.6 1323.0,460.6 1324.5,460.6 1326.0,460.5 1327.5,460.5 1329.0,460.5 1330.5,460.4 1332.0,460.3 1333.5,460.2 1335.0,460.0 1336.5,459.8 1338.0,459.6 1339.5,459.4 1341.0,459.1 1342.5,458.9 1344.0,458.6 1345.5,458.3 1347.0,458.0 1348.5,457.8 1350.0,457.5 1351.5,457.2 1353.0,456.9 1354.5,456.6 1356.0,456.3 1357.5,456.0 1359.0,455.7 1360.5,455.3 1362.0,455.0 1363.5,454.6 1365.0,454.2 1366.5,453.8 1368.0,453.3 1369.5,452.9 1371.0,452.4 1372.5,451.9 1374.0,451.3 1375.5,450.8 1377.0,450.2 1378.5,449.5 1380.0,448.9 1381.5,448.2 1383.0,447.4 1384.5,446.6 1386.0,445.8 1387.5,444.9 1389.0,443.9 1390.5,442.9 1392.0,441.9 1393.5,440.8 1395.0,439.6 1396.5,438.5 1398.0,437.3 1399.5,436.1 1401.0,434.8 1402.5,433.6 1404.0,432.4 1405.5,431.1 1407.0,429.8 1408.5,428.5 1410.0,427.2 1411.5,425.9 1413.0,424.6 1414.5,423.2 1416.0,421.8 1417.5,420.4 1419.0,419.1 1420.5,417.7 1422.0,416.3 1423.5,415.0 1425.0,413.6 1426.5,412.4 1428.0,411.2 1429.5,410.0 1431.0,408.9 1432.5,407.9 1434.0,406.8 1435.5,405.8 1437.0,405.0 1438.5,404.3 1440.0,403.8 1441.5,403.4 1443.0,403.1 1444.5,403.0 1446.0,402.9 1447.5,402.9 1449.0,403.0 1450.5,403.2 1452.0,403.5 1453.5,404.0 1455.0,404.6 1456.5,405.5 1458.0,406.5 1459.5,407.7 1461.0,408.8 1462.5,410.0 1464.0,411.1 1465.5,412.4 1467.0,413.6 1468.5,414.9 1470.0,416.2 1471.5,417.5 1473.0,418.9 1474.5,420.2 1476.0,421.5 1477.5,422.8 1479.0,424.1 1480.5,425.5 1482.0,426.8 1483.5,428.1 1485.0,429.5 1486.5,430.9 1488.0,432.3 1489.5,433.7 1491.0,435.1 1492.5,436.5 1494.0,437.8 1495.5,439.2 1497.0,440.5 1498.5,441.7 1500.0,442.8 1501.5,443.9 1503.0,444.8 1504.5,445.7 1506.0,446.4 1507.5,447.1 1509.0,447.7 1510.5,448.2 1512.0,448.6 1513.5,449.1 1515.0,449.5 1516.5,449.8 1518.0,450.2 1519.5,450.5 1521.0,450.8 1522.5,451.1 1524.0,451.3 1525.5,451.6 1527.0,451.8 1528.5,452.1 1530.0,452.3 1531.5,452.5 1533.0,452.8 1534.5,453.0 1536.0,453.2 1537.5,453.3 1539.0,453.5 1540.5,453.6 1542.0,453.8 1543.5,453.9 1545.0,454.0 1546.5,454.1 1548.0,454.2 1549.5,454.3 1551.0,454.4 1552.5,454.5 1554.0,454.5 1555.5,454.5 1557.0,454.5 1558.5,454.5 1560.0,454.4 1561.5,454.4 1563.0,454.2 1564.5,454.1 1566.0,454.0 1567.5,453.9 1569.0,453.7 1570.5,453.6 1572.0,453.5 1573.5,453.3 1575.0,453.2 1576.5,453.0 1578.0,452.8 1579.5,452.7 1581.0,452.5 1582.5,452.3 1584.0,452.2 1585.5,452.0 1587.0,451.8 1588.5,451.6 1590.0,451.5 1591.5,451.3 1593.0,451.1 1594.5,450.9 1596.0,450.7 1597.5,450.6 1599.0,450.4 1600.5,450.2 1602.0,450.0 1603.5,449.8 1605.0,449.6 1606.5,449.4 1608.0,449.2 1609.5,448.9 1611.0,448.7 1612.5,448.4 1614.0,448.2 1615.5,448.0 1617.0,447.8 1618.5,447.6 1620.0,447.4 1621.5,447.2 1623.0,447.1 1624.5,447.0 1626.0,446.9 1627.5,446.8 1629.0,446.9 1630.5,447.0 1632.0,447.1 1633.5,447.3 1635.0,447.6 1636.5,447.9 1638.0,448.1 1639.5,448.5 1641.0,448.8 1642.5,449.2 1644.0,449.6 1645.5,450.0 1647.0,450.3 1648.5,450.7 1650.0,451.1 1651.5,451.5 1653.0,451.9 1654.5,452.4 1656.0,452.8 1657.5,453.2 1659.0,453.6 1660.5,454.0 1662.0,454.4 1663.5,454.9 1665.0,455.3 1666.5,455.7 1668.0,456.1 1669.5,456.6 1671.0,457.0 1672.5,457.4 1674.0,457.8 1675.5,458.3 1677.0,458.7 1678.5,459.1 1680.0,459.6 1681.5,460.0 1687.5,461.8"/>
<polyline points="202.5,630.2 208.5,632.7 210.0,633.3 211.5,633.9 213.0,634.3 214.5,634.7 216.0,634.9 217.5,634.9 219.0,634.9 220.5,634.9 222.0,634.9 223.5,634.8 225.0,634.7 226.5,634.6 228.0,634.5 229.5,634.3 231.0,634.1 232.5,633.9 234.0,633.7 235.5,633.5 237.0,633.3 238.5,633.1 240.0,632.9 241.5,632.7 243.0,632.6 244.5,632.5 246.0,632.4 247.5,632.2 249.0,632.1 250.5,632.0 252.0,631.9 253.5,631.8 255.0,631.7 256.5,631.5 258.0,631.4 259.5,631.3 261.0,631.2 262.5,631.1 264.0,630.9 265.5,630.8 267.0,630.7 268.5,630.6 270.0,630.4 271.5,630.3 273.0,630.2 274.5,630.0 276.0,629.9 277.5,629.7 279.0,629.6 280.5,629.4 282.0,629.3 283.5,629.1 285.0,629.0 286.5,628.9 288.0,628.7 289.5,628.6 291.0,628.6 292.5,628.5 294.0,628.5 295.5,628.5 297.0,628.5 298.5,628.5 300.0,628.6 301.5,628.6 303.0,628.7 304.5,628.7 306.0,628.8 307.5,629.0 309.0,629.3 310.5,629.7 312.0,630.1 313.5,630.4 315.0,630.7 316.5,630.9 318.0,631.0 319.5,631.1 321.0,631.1 322.5,631.0 324.0,630.9 325.5,630.8 327.0,630.7 328.5,630.6 330.0,630.5 331.5,630.3 333.0,630.0 334.5,629.6 336.0,629.1 337.5,628.8 339.0,628.6 340.5,628.7 342.0,629.0 343.5,629.3 345.0,629.7 346.5,630.1 348.0,630.5 349.5,630.9 351.0,631.2 352.5,631.6 354.0,631.9 355.5,632.2 357.0,632.5 358.5,632.7 360.0,632.8 361.5,632.8 363.0,632.5 364.5,632.0 366.0,631.4 367.5,630.8 369.0,630.3 370.5,629.8 372.0,629.5 373.5,629.3 375.0,629.2 376.5,629.1 378.0,629.1 379.5,629.1 381.0,629.1 382.5,629.0 384.0,628.8 385.5,628.6 387.0,628.2 388.5,627.5 390.0,626.7 391.5,625.8 393.0,624.6 394.5,623.4 396.0,622.0 397.5,620.6 399.0,619.1 400.5,617.5 402.0,615.8 403.5,614.1 405.0,612.3 406.5,610.5 408.0,608.6 409.5,606.7 411.0,604.7 412.5,602.5 414.0,600.2 415.5,597.8 417.0,595.3 418.5,592.5 420.0,589.3 421.5,585.7 423.0,581.7 424.5,577.5 426.0,572.9 427.5,568.0 429.0,562.7 430.5,557.1 432.0,551.3 433.5,545.2 435.0,538.9 436.5,532.3 438.0,525.7 439.5,519.1 441.0,512.5 442.5,505.9 444.0,499.4 445.5,492.8 447.0,486.5 448.5,481.5 450.0,477.4 451.5,473.8 453.0,470.8 454.5,468.4 456.0,466.8 457.5,465.8 459.0,465.5 460.5,465.9 462.0,466.8 463.5,468.2 465.0,470.1 466.5,472.5 468.0,475.5 469.5,479.2 471.0,483.7 472.5,488.5 474.0,493.6 475.5,498.8 477.0,504.2 478.5,509.7 480.0,515.3 481.5,520.8 483.0,526.3 484.5,531.5 486.0,536.6 487.5,541.5 489.0,546.3 490.5,551.0 492.0,555.3 493.5,559.3 495.0,563.1 496.5,566.5 498.0,569.8 499.5,572.8 501.0,575.6 502.5,578.1 504.0,580.5 505.5,582.6 507.0,584.7 508.5,586.7 510.0,588.5 511.5,590.2 513.0,591.7 514.5,593.0 516.0,594.3 517.5,595.5 519.0,596.6 520.5,597.6 522.0,598.4 523.5,599.2 525.0,599.9 526.5,600.6 528.0,601.2 529.5,601.8 531.0,602.3 532.5,602.7 534.0,603.1 535.5,603.5 537.0,603.8 538.5,604.1 540.0,604.3 541.5,604.5 543.0,604.5 544.5,604.5 546.0,604.4 547.5,604.2 549.0,604.1 550.5,603.8 552.0,603.6 553.5,603.3 555.0,603.0 556.5,602.7 558.0,602.3 559.5,602.0 561.0,601.6 562.5,601.2 564.0,600.7 565.5,600.3 567.0,599.8 568.5,599.2 570.0,598.6 571.5,597.9 573.0,597.0 574.5,596.1 576.0,595.1 577.5,594.1 579.0,593.0 580.5,591.9 582.0,590.7 583.5,589.6 585.0,588.3 586.5,587.0 588.0,585.5 589.5,583.9 591.0,582.3 592.5,580.6 594.0,578.7 595.5,576.6 597.0,574.2 598.5,571.5 600.0,568.6 601.5,565.5 603.0,562.3 604.5,558.8 606.0,554.9 607.5,550.7 609.0,546.0 610.5,540.9 612.0,535.7 613.5,530.1 615.0,524.3 616.5,518.4 618.0,512.4 619.5,506.4 621.0,500.5 622.5,494.7 624.0,489.0 625.5,483.5 627.0,478.4 628.5,474.4 630.0,471.2 631.5,468.7 633.0,466.8 634.5,465.7 636.0,465.2 637.5,465.2 639.0,465.7 640.5,466.5 642.0,467.9 643.5,469.9 645.0,472.5 646.5,475.6 648.0,479.1 649.5,483.3 651.0,487.7 652.5,492.3 654.0,497.3 655.5,502.8 657.0,508.3 658.5,514.0 660.0,519.8 661.5,525.8 663.0,531.8 664.5,537.8 666.0,543.8 667.5,549.8 669.0,555.9 670.5,562.0 672.0,568.1 673.5,574.2 675.0,579.8 676.5,584.7 678.0,589.0 679.5,592.8 681.0,596.6 682.5,600.1 684.0,603.3 685.5,606.1 687.0,608.4 688.5,610.2 690.0,612.0 691.5,613.5 693.0,615.0 694.5,616.2 696.0,617.3 697.5,618.3 699.0,619.4 700.5,620.3 702.0,621.3 703.5,622.1 705.0,622.9 706.5,623.5 708.0,623.9 709.5,624.4 711.0,624.8 712.5,625.2 714.0,625.6 715.5,625.9 717.0,626.2 718.5,626.5 720.0,626.8 721.5,627.1 723.0,627.4 724.5,627.7 726.0,628.0 727.5,628.3 729.0,628.6 730.5,628.8 732.0,629.0 733.5,629.2 735.0,629.4 736.5,629.5 738.0,629.6 739.5,629.6 741.0,629.7 742.5,629.8 744.0,629.8 745.5,629.9 747.0,630.0 748.5,630.0 750.0,630.1 751.5,630.1 753.0,630.2 754.5,630.3 756.0,630.3 757.5,630.4 759.0,630.4 760.5,630.4 762.0,630.5 763.5,630.5 765.0,630.6 766.5,630.6 768.0,630.7 769.5,630.7 771.0,630.7 772.5,630.8 774.0,630.8 775.5,630.8 777.0,630.9 778.5,630.9 780.0,630.9 781.5,631.0 783.0,631.0 784.5,631.1 786.0,631.1 787.5,631.1 789.0,631.2 790.5,631.2 792.0,631.2 793.5,631.3 795.0,631.3 796.5,631.3 798.0,631.4 799.5,631.4 801.0,631.4 802.5,631.5 804.0,631.5 805.5,631.5 807.0,631.6 808.5,631.6 810.0,631.6 811.5,631.7 813.0,631.7 814.5,631.7 816.0,631.8 817.5,631.8 819.0,631.8 820.5,631.9 822.0,631.9 823.5,631.9 825.0,632.0 826.5,632.0 828.0,632.1 829.5,632.1 831.0,632.1 832.5,632.2 834.0,632.2 835.5,632.2 837.0,632.3 838.5,632.3 840.0,632.3 841.5,632.4 843.0,632.4 844.5,632.4 846.0,632.4 847.5,632.4 849.0,632.5 850.5,632.5 852.0,632.5 853.5,632.5 855.0,632.5 856.5,632.5 858.0,632.5 859.5,632.5 861.0,632.4 862.5,632.4 864.0,632.4 865.5,632.3 867.0,632.3 868.5,632.2 870.0,632.2 871.5,632.1 873.0,632.1 874.5,632.0 876.0,631.9 877.5,631.8 879.0,631.8 880.5,631.7 882.0,631.6 883.5,631.5 885.0,631.5 886.5,631.4 888.0,631.3 889.5,631.3 891.0,631.2 892.5,631.1 894.0,631.1 895.5,631.0 897.0,630.9 898.5,630.9 900.0,630.8 901.5,630.8 903.0,630.7 904.5,630.7 906.0,630.6 907.5,630.6 909.0,630.6 910.5,630.5 912.0,630.5 913.5,630.4 915.0,630.4 916.5,630.4 918.0,630.3 919.5,630.3 921.0,630.2 922.5,630.2 924.0,630.1 925.5,630.1 927.0,630.1 928.5,630.0 930.0,630.0 931.5,630.0 933.0,629.9 934.5,629.9 936.0,629.8 937.5,629.8 939.0,629.8 940.5,629.7 942.0,629.7 943.5,629.7 945.0,629.6 946.5,629.6 948.0,629.6 949.5,629.5 951.0,629.5 952.5,629.5 954.0,629.4 955.5,629.4 957.0,629.4 958.5,629.4 960.0,629.4 961.5,629.4 963.0,629.4 964.5,629.4 966.0,629.4 967.5,629.4 969.0,629.4 970.5,629.4 972.0,629.5 973.5,629.5 975.0,629.5 976.5,629.5 978.0,629.6 979.5,629.6 981.0,629.6 982.5,629.6 984.0,629.7 985.5,629.7 987.0,629.7 988.5,629.8 990.0,629.8 991.5,629.8 993.0,629.9 994.5,629.9 996.0,629.9 997.5,629.9 999.0,630.0 1000.5,630.0 1002.0,630.0 1003.5,630.0 1005.0,630.1 1006.5,630.1 1008.0,630.1 1009.5,630.1 1011.0,630.1 1012.5,630.1 1014.0,630.1 1015.5,630.1 1017.0,630.1 1018.5,630.1 1020.0,630.1 1021.5,630.0 1023.0,629.9 1024.5,629.9 1026.0,629.8 1027.5,629.7 1029.0,629.5 1030.5,629.4 1032.0,629.3 1033.5,629.1 1035.0,629.0 1036.5,628.9 1038.0,628.7 1039.5,628.6 1041.0,628.5 1042.5,628.4 1044.0,628.3 1045.5,628.2 1047.0,628.1 1048.5,628.1 1050.0,628.1 1051.5,628.1 1053.0,628.1 1054.5,628.2 1056.0,628.2 1057.5,628.3 1059.0,628.4 1060.5,628.5 1062.0,628.6 1063.5,628.7 1065.0,628.8 1066.5,628.9 1068.0,629.0 1069.5,629.2 1071.0,629.3 1072.5,629.4 1074.0,629.5 1075.5,629.6 1077.0,629.7 1078.5,629.8 1080.0,629.9 1081.5,630.0 1083.0,630.0 1084.5,630.1 1086.0,630.1 1087.5,630.2 1089.0,630.2 1090.5,630.2 1092.0,630.3 1093.5,630.3 1095.0,630.4 1096.5,630.4 1098.0,630.4 1099.5,630.5 1101.0,630.5 1102.5,630.6 1104.0,630.6 1105.5,630.6 1107.0,630.7 1108.5,630.7 1110.0,630.8 1111.5,630.8 1113.0,630.8 1114.5,630.9 1116.0,630.9 1117.5,630.9 1119.0,631.0 1120.5,631.0 1122.0,631.1 1123.5,631.1 1125.0,631.1 1126.5,631.2 1128.0,631.2 1129.5,631.2 1131.0,631.2 1132.5,631.3 1134.0,631.3 1135.5,631.3 1137.0,631.4 1138.5,631.4 1140.0,631.4 1141.5,631.4 1143.0,631.4 1144.5,631.5 1146.0,631.5 1147.5,631.5 1149.0,631.5 1150.5,631.5 1152.0,631.5 1153.5,631.5 1155.0,631.5 1156.5,631.5 1158.0,631.5 1159.5,631.5 1161.0,631.5 1162.5,631.5 1164.0,631.5 1165.5,631.5 1167.0,631.5 1168.5,631.5 1170.0,631.5 1171.5,631.5 1173.0,631.5 1174.5,631.4 1176.0,631.4 1177.5,631.4 1179.0,631.4 1180.5,631.4 1182.0,631.4 1183.5,631.3 1185.0,631.3 1186.5,631.3 1188.0,631.3 1189.5,631.3 1191.0,631.3 1192.5,631.3 1194.0,631.2 1195.5,631.2 1197.0,631.2 1198.5,631.2 1200.0,631.2 1201.5,631.2 1203.0,631.1 1204.5,631.1 1206.0,631.1 1207.5,631.1 1209.0,631.1 1210.5,631.1 1212.0,631.0 1213.5,631.0 1215.0,631.0 1216.5,631.0 1218.0,631.0 1219.5,631.0 1221.0,630.9 1222.5,630.9 1224.0,630.9 1225.5,630.9 1227.0,630.9 1228.5,630.9 1230.0,630.9 1231.5,630.8 1233.0,630.8 1234.5,630.8 1236.0,630.8 1237.5,630.8 1239.0,630.8 1240.5,630.8 1242.0,630.7 1243.5,630.7 1245.0,630.7 1246.5,630.7 1248.0,630.7 1249.5,630.7 1251.0,630.7 1252.5,630.6 1254.0,630.6 1255.5,630.6 1257.0,630.6 1258.5,630.6 1260.0,630.6 1261.5,630.6 1263.0,630.5 1264.5,630.5 1266.0,630.5 1267.5,630.5 1269.0,630.5 1270.5,630.5 1272.0,630.5 1273.5,630.4 1275.0,630.4 1276.5,630.4 1278.0,630.4 1279.5,630.4 1281.0,630.4 1282.5,630.4 1284.0,630.4 1285.5,630.3 1287.0,630.3 1288.5,630.3 1290.0,630.3 1291.5,630.3 1293.0,630.3 1294.5,630.3 1296.0,630.3 1297.5,630.3 1299.0,630.3 1300.5,630.3 1302.0,630.3 1303.5,630.3 1305.0,630.3 1306.5,630.3 1308.0,630.3 1309.5,630.3 1311.0,630.3 1312.5,630.3 1314.0,630.3 1315.5,630.3 1317.0,630.3 1318.5,630.3 1320.0,630.3 1321.5,630.3 1323.0,630.3 1324.5,630.3 1326.0,630.2 1327.5,630.2 1329.0,630.1 1330.5,630.0 1332.0,629.9 1333.5,629.8 1335.0,629.6 1336.5,629.5 1338.0,629.3 1339.5,629.2 1341.0,629.0 1342.5,628.8 1344.0,628.7 1345.5,628.5 1347.0,628.4 1348.5,628.2 1350.0,628.0 1351.5,627.9 1353.0,627.7 1354.5,627.5 1356.0,627.3 1357.5,627.1 1359.0,626.9 1360.5,626.7 1362.0,626.4 1363.5,626.2 1365.0,625.9 1366.5,625.7 1368.0,625.4 1369.5,625.1 1371.0,624.8 1372.5,624.5 1374.0,624.2 1375.5,623.8 1377.0,623.4 1378.5,623.0 1380.0,622.6 1381.5,622.1 1383.0,621.7 1384.5,621.2 1386.0,620.7 1387.5,620.2 1389.0,619.6 1390.5,619.1 1392.0,618.5 1393.5,617.9 1395.0,617.3 1396.5,616.7 1398.0,616.0 1399.5,615.4 1401.0,614.7 1402.5,614.1 1404.0,613.4 1405.5,612.7 1407.0,611.9 1408.5,611.2 1410.0,610.4 1411.5,609.7 1413.0,608.9 1414.5,608.1 1416.0,607.2 1417.5,606.4 1419.0,605.6 1420.5,604.8 1422.0,604.0 1423.5,603.2 1425.0,602.5 1426.5,601.7 1428.0,601.1 1429.5,600.4 1431.0,599.8 1432.5,599.2 1434.0,598.7 1435.5,598.2 1437.0,597.8 1438.5,597.5 1440.0,597.3 1441.5,597.3 1443.0,597.2 1444.5,597.2 1446.0,597.2 1447.5,597.2 1449.0,597.4 1450.5,597.5 1452.0,597.9 1453.5,598.3 1455.0,598.9 1456.5,599.6 1458.0,600.4 1459.5,601.2 1461.0,602.1 1462.5,603.0 1464.0,603.9 1465.5,604.8 1467.0,605.8 1468.5,606.7 1470.0,607.7 1471.5,608.7 1473.0,609.8 1474.5,610.8 1476.0,611.8 1477.5,612.9 1479.0,613.9 1480.5,614.9 1482.0,615.8 1483.5,616.7 1485.0,617.5 1486.5,618.3 1488.0,619.0 1489.5,619.7 1491.0,620.3 1492.5,620.8 1494.0,621.4 1495.5,621.8 1497.0,622.3 1498.5,622.7 1500.0,623.1 1501.5,623.5 1503.0,623.9 1504.5,624.2 1506.0,624.6 1507.5,624.9 1509.0,625.2 1510.5,625.4 1512.0,625.6 1513.5,625.8 1515.0,626.0 1516.5,626.2 1518.0,626.4 1519.5,626.6 1521.0,626.7 1522.5,626.9 1524.0,627.1 1525.5,627.2 1527.0,627.4 1528.5,627.5 1530.0,627.6 1531.5,627.7 1533.0,627.8 1534.5,627.9 1536.0,628.0 1537.5,628.1 1539.0,628.2 1540.5,628.3 1542.0,628.4 1543.5,628.4 1545.0,628.5 1546.5,628.6 1548.0,628.7 1549.5,628.7 1551.0,628.8 1552.5,628.9 1554.0,628.9 1555.5,629.0 1557.0,629.0 1558.5,629.0 1560.0,629.0 1561.5,629.1 1563.0,629.0 1564.5,629.0 1566.0,629.0 1567.5,629.0 1569.0,628.9 1570.5,628.8 1572.0,628.8 1573.5,628.7 1575.0,628.6 1576.5,628.5 1578.0,628.5 1579.5,628.4 1581.0,628.3 1582.5,628.2 1584.0,628.2 1585.5,628.1 1587.0,628.0 1588.5,627.9 1590.0,627.8 1591.5,627.8 1593.0,627.7 1594.5,627.6 1596.0,627.5 1597.5,627.4 1599.0,627.3 1600.5,627.3 1602.0,627.2 1603.5,627.1 1605.0,627.0 1606.5,626.9 1608.0,626.8 1609.5,626.7 1611.0,626.6 1612.5,626.5 1614.0,626.4 1615.5,626.3 1617.0,626.2 1618.5,626.2 1620.0,626.1 1621.5,626.0 1623.0,625.9 1624.5,625.8 1626.0,625.8 1627.5,625.7 1629.0,625.7 1630.5,625.8 1632.0,625.9 1633.5,626.0 1635.0,626.1 1636.5,626.3 1638.0,626.5 1639.5,626.8 1641.0,627.0 1642.5,627.3 1644.0,627.6 1645.5,627.9 1647.0,628.3 1648.5,628.7 1650.0,629.0 1651.5,629.4 1653.0,629.7 1654.5,630.0 1656.0,630.3 1657.5,630.5 1659.0,630.8 1660.5,631.0 1662.0,631.3 1663.5,631.5 1665.0,631.8 1666.5,632.0 1668.0,632.3 1669.5,632.5 1671.0,632.7 1672.5,632.9 1674.0,633.1 1675.5,633.3 1677.0,633.5 1678.5,633.7 1680.0,633.9 1681.5,634.1 1687.5,634.8"/>
<polyline points="202.5,798.5 208.5,798.8 210.0,798.9 211.5,798.9 213.0,799.0 214.5,799.1 216.0,799.1 217.5,799.2 219.0,799.2 220.5,799.3 222.0,799.3 223.5,799.3 225.0,799.3 226.5,799.3 228.0,799.3 229.5,799.4 231.0,799.4 232.5,799.4 234.0,799.4 235.5,799.4 237.0,799.4 238.5,799.4 240.0,799.4 241.5,799.4 243.0,799.4 244.5,799.4 246.0,799.4 247.5,799.4 249.0,799.3 250.5,799.3 252.0,799.3 253.5,799.3 255.0,799.3 256.5,799.3 258.0,799.3 259.5,799.3 261.0,799.2 262.5,799.2 264.0,799.2 265.5,799.2 267.0,799.1 268.5,799.1 270.0,799.1 271.5,799.0 273.0,799.0 274.5,799.0 276.0,798.9 277.5,798.9 279.0,798.8 280.5,798.8 282.0,798.7 283.5,798.7 285.0,798.7 286.5,798.6 288.0,798.6 289.5,798.5 291.0,798.5 292.5,798.5 294.0,798.5 295.5,798.5 297.0,798.5 298.5,798.5 300.0,798.5 301.5,798.5 303.0,798.5 304.5,798.5 306.0,798.5 307.5,798.6 309.0,798.6 310.5,798.6 312.0,798.7 313.5,798.7 315.0,798.7 316.5,798.8 318.0,798.8 319.5,798.9 321.0,799.0 322.5,799.1 324.0,799.2 325.5,799.3 327.0,799.5 328.5,799.6 330.0,799.8 331.5,799.9 333.0,800.1 334.5,800.2 336.0,800.3 337.5,800.5 339.0,800.6 340.5,800.6 342.0,800.7 343.5,800.7 345.0,800.7 346.5,800.7 348.0,800.7 349.5,800.6 351.0,800.6 352.5,800.5 354.0,800.4 355.5,800.3 357.0,800.2 358.5,800.0 360.0,799.9 361.5,799.8 363.0,799.6 364.5,799.4 366.0,799.2 367.5,799.1 369.0,798.8 370.5,798.6 372.0,798.4 373.5,798.2 375.0,797.9 376.5,797.7 378.0,797.4 379.5,797.1 381.0,796.7 382.5,796.4 384.0,796.0 385.5,795.6 387.0,795.2 388.5,794.7 390.0,794.2 391.5,793.7 393.0,793.1 394.5,792.4 396.0,791.7 397.5,791.0 399.0,790.2 400.5,789.4 402.0,788.6 403.5,787.7 405.0,786.7 406.5,785.6 408.0,784.4 409.5,783.2 411.0,781.9 412.5,780.6 414.0,779.1 415.5,777.4 417.0,775.5 418.5,773.3 420.0,771.0 421.5,768.6 423.0,766.0 424.5,763.0 426.0,759.7 427.5,756.0 429.0,751.9 430.5,747.5 432.0,742.7 433.5,737.4 435.0,731.7 436.5,725.6 438.0,719.0 439.5,711.6 441.0,703.3 442.5,694.7 444.0,686.4 445.5,678.7 447.0,671.3 448.5,664.3 450.0,658.4 451.5,653.9 453.0,650.3 454.5,647.6 456.0,646.0 457.5,645.5 459.0,645.9 460.5,647.2 462.0,649.3 463.5,652.1 465.0,655.4 466.5,659.9 468.0,666.1 469.5,672.8 471.0,679.7 472.5,686.8 474.0,694.0 475.5,701.2 477.0,708.4 478.5,715.4 480.0,722.2 481.5,728.6 483.0,734.8 484.5,740.3 486.0,745.1 487.5,749.4 489.0,753.6 490.5,757.5 492.0,761.3 493.5,764.6 495.0,767.6 496.5,770.0 498.0,772.3 499.5,774.3 501.0,776.0 502.5,777.6 504.0,778.9 505.5,780.1 507.0,781.3 508.5,782.4 510.0,783.4 511.5,784.3 513.0,785.2 514.5,785.9 516.0,786.5 517.5,787.0 519.0,787.5 520.5,788.0 522.0,788.4 523.5,788.7 525.0,789.0 526.5,789.1 528.0,789.2 529.5,789.2 531.0,789.3 532.5,789.3 534.0,789.3 535.5,789.4 537.0,789.3 538.5,789.3 540.0,789.3 541.5,789.3 543.0,789.2 544.5,789.1 546.0,789.1 547.5,789.0 549.0,788.9 550.5,788.8 552.0,788.7 553.5,788.6 555.0,788.4 556.5,788.2 558.0,787.9 559.5,787.6 561.0,787.2 562.5,786.8 564.0,786.3 565.5,785.8 567.0,785.2 568.5,784.5 570.0,783.7 571.5,782.8 573.0,781.8 574.5,780.8 576.0,779.7 577.5,778.5 579.0,777.2 580.5,775.7 582.0,774.2 583.5,772.6 585.0,770.9 586.5,769.2 588.0,767.4 589.5,765.5 591.0,763.3 592.5,760.9 594.0,758.4 595.5,755.8 597.0,752.8 598.5,749.4 600.0,745.5 601.5,741.2 603.0,736.6 604.5,731.8 606.0,726.5 607.5,720.5 609.0,714.0 610.5,707.4 612.0,700.8 613.5,694.2 615.0,687.6 616.5,681.0 618.0,674.4 619.5,667.9 621.0,661.8 622.5,656.4 624.0,651.5 625.5,647.0 627.0,643.5 628.5,640.8 630.0,638.7 631.5,637.0 633.0,635.9 634.5,635.5 636.0,635.7 637.5,636.4 639.0,637.8 640.5,639.8 642.0,642.4 643.5,645.4 645.0,648.7 646.5,652.5 648.0,656.4 649.5,660.5 651.0,665.0 652.5,669.9 654.0,675.0 655.5,680.1 657.0,685.3 658.5,690.6 660.0,695.9 661.5,701.3 663.0,706.9 664.5,712.8 666.0,718.9 667.5,724.9 669.0,730.8 670.5,736.4 672.0,741.9 673.5,747.1 675.0,751.9 676.5,756.2 678.0,760.0 679.5,763.6 681.0,766.9 682.5,770.1 684.0,773.1 685.5,775.6 687.0,777.8 688.5,779.6 690.0,781.2 691.5,782.6 693.0,783.8 694.5,784.8 696.0,785.7 697.5,786.3 699.0,787.0 700.5,787.7 702.0,788.3 703.5,788.8 705.0,789.3 706.5,789.7 708.0,789.9 709.5,790.2 711.0,790.5 712.5,790.8 714.0,791.0 715.5,791.3 717.0,791.5 718.5,791.8 720.0,792.0 721.5,792.2 723.0,792.4 724.5,792.7 726.0,792.9 727.5,793.1 729.0,793.3 730.5,793.5 732.0,793.7 733.5,793.9 735.0,794.2 736.5,794.4 738.0,794.6 739.5,794.8 741.0,795.0 742.5,795.2 744.0,795.4 745.5,795.5 747.0,795.7 748.5,795.9 750.0,796.1 751.5,796.2 753.0,796.4 754.5,796.6 756.0,796.7 757.5,796.9 759.0,797.0 760.5,797.2 762.0,797.3 763.5,797.5 765.0,797.6 766.5,797.8 768.0,797.9 769.5,798.0 771.0,798.2 772.5,798.3 774.0,798.4 775.5,798.5 777.0,798.6 778.5,798.8 780.0,798.9 781.5,799.0 783.0,799.1 784.5,799.2 786.0,799.3 787.5,799.4 789.0,799.5 790.5,799.6 792.0,799.7 793.5,799.7 795.0,799.8 796.5,799.9 798.0,800.0 799.5,800.1 801.0,800.1 802.5,800.2 804.0,800.3 805.5,800.3 807.0,800.4 808.5,800.5 810.0,800.5 811.5,800.6 813.0,800.6 814.5,800.7 816.0,800.8 817.5,800.8 819.0,800.9 820.5,800.9 822.0,801.0 823.5,801.0 825.0,801.1 826.5,801.1 828.0,801.2 829.5,801.2 831.0,801.3 832.5,801.3 834.0,801.4 835.5,801.4 837.0,801.4 838.5,801.5 840.0,801.5 841.5,801.6 843.0,801.6 844.5,801.6 846.0,801.7 847.5,801.7 849.0,801.8 850.5,801.8 852.0,801.8 853.5,801.9 855.0,801.9 856.5,801.9 858.0,802.0 859.5,802.0 861.0,802.0 862.5,802.1 864.0,802.1 865.5,802.1 867.0,802.1 868.5,802.2 870.0,802.2 871.5,802.2 873.0,802.3 874.5,802.3 876.0,802.3 877.5,802.3 879.0,802.3 880.5,802.4 882.0,802.4 883.5,802.4 885.0,802.4 886.5,802.4 888.0,802.4 889.5,802.5 891.0,802.5 892.5,802.5 894.0,802.5 895.5,802.5 897.0,802.5 898.5,802.5 900.0,802.5 901.5,802.5 903.0,802.5 904.5,802.5 906.0,802.5 907.5,802.4 909.0,802.4 910.5,802.4 912.0,802.3 913.5,802.3 915.0,802.2 916.5,802.2 918.0,802.1 919.5,802.0 921.0,802.0 922.5,801.9 924.0,801.8 925.5,801.8 927.0,801.7 928.5,801.6 930.0,801.6 931.5,801.5 933.0,801.5 934.5,801.4 936.0,801.4 937.5,801.3 939.0,801.3 940.5,801.2 942.0,801.2 943.5,801.1 945.0,801.1 946.5,801.1 948.0,801.1 949.5,801.1 951.0,801.1 952.5,801.1 954.0,801.1 955.5,801.1 957.0,801.2 958.5,801.2 960.0,801.2 961.5,801.2 963.0,801.2 964.5,801.3 966.0,801.3 967.5,801.3 969.0,801.3 970.5,801.4 972.0,801.4 973.5,801.4 975.0,801.4 976.5,801.5 978.0,801.5 979.5,801.5 981.0,801.5 982.5,801.6 984.0,801.6 985.5,801.6 987.0,801.6 988.5,801.7 990.0,801.7 991.5,801.7 993.0,801.7 994.5,801.7 996.0,801.8 997.5,801.8 999.0,801.8 1000.5,801.8 1002.0,801.8 1003.5,801.8 1005.0,801.8 1006.5,801.8 1008.0,801.8 1009.5,801.9 1011.0,801.9 1012.5,801.9 1014.0,801.9 1015.5,801.9 1017.0,801.9 1018.5,801.9 1020.0,801.9 1021.5,801.9 1023.0,801.9 1024.5,801.9 1026.0,801.9 1027.5,802.0 1029.0,802.0 1030.5,802.0 1032.0,802.0 1033.5,802.0 1035.0,802.0 1036.5,802.0 1038.0,802.0 1039.5,802.0 1041.0,802.0 1042.5,802.0 1044.0,802.1 1045.5,802.1 1047.0,802.1 1048.5,802.1 1050.0,802.1 1051.5,802.1 1053.0,802.1 1054.5,802.1 1056.0,802.1 1057.5,802.1 1059.0,802.2 1060.5,802.2 1062.0,802.2 1063.5,802.2 1065.0,802.2 1066.5,802.2 1068.0,802.2 1069.5,802.2 1071.0,802.3 1072.5,802.3 1074.0,802.3 1075.5,802.3 1077.0,802.3 1078.5,802.3 1080.0,802.3 1081.5,802.3 1083.0,802.4 1084.5,802.4 1086.0,802.4 1087.5,802.4 1089.0,802.4 1090.5,802.4 1092.0,802.4 1093.5,802.4 1095.0,802.5 1096.5,802.5 1098.0,802.5 1099.5,802.5 1101.0,802.5 1102.5,802.5 1104.0,802.5 1105.5,802.6 1107.0,802.6 1108.5,802.6 1110.0,802.6 1111.5,802.6 1113.0,802.6 1114.5,802.6 1116.0,802.6 1117.5,802.7 1119.0,802.7 1120.5,802.7 1122.0,802.7 1123.5,802.7 1125.0,802.7 1126.5,802.7 1128.0,802.7 1129.5,802.8 1131.0,802.8 1132.5,802.8 1134.0,802.8 1135.5,802.8 1137.0,802.8 1138.5,802.8 1140.0,802.8 1141.5,802.8 1143.0,802.9 1144.5,802.9 1146.0,802.9 1147.5,802.9 1149.0,802.9 1150.5,802.9 1152.0,802.9 1153.5,802.9 1155.0,802.9 1156.5,802.9 1158.0,802.9 1159.5,802.9 1161.0,802.9 1162.5,802.9 1164.0,802.9 1165.5,802.9 1167.0,802.9 1168.5,802.9 1170.0,802.9 1171.5,802.9 1173.0,802.9 1174.5,802.9 1176.0,802.9 1177.5,802.9 1179.0,802.9 1180.5,802.9 1182.0,802.9 1183.5,802.9 1185.0,802.9 1186.5,802.9 1188.0,802.8 1189.5,802.8 1191.0,802.8 1192.5,802.8 1194.0,802.8 1195.5,802.8 1197.0,802.8 1198.5,802.8 1200.0,802.8 1201.5,802.7 1203.0,802.7 1204.5,802.7 1206.0,802.7 1207.5,802.7 1209.0,802.6 1210.5,802.6 1212.0,802.6 1213.5,802.6 1215.0,802.6 1216.5,802.5 1218.0,802.5 1219.5,802.5 1221.0,802.5 1222.5,802.4 1224.0,802.4 1225.5,802.4 1227.0,802.3 1228.5,802.3 1230.0,802.3 1231.5,802.2 1233.0,802.2 1234.5,802.2 1236.0,802.1 1237.5,802.1 1239.0,802.1 1240.5,802.0 1242.0,802.0 1243.5,801.9 1245.0,801.9 1246.5,801.9 1248.0,801.8 1249.5,801.8 1251.0,801.7 1252.5,801.7 1254.0,801.6 1255.5,801.6 1257.0,801.5 1258.5,801.5 1260.0,801.4 1261.5,801.4 1263.0,801.3 1264.5,801.3 1266.0,801.2 1267.5,801.2 1269.0,801.1 1270.5,801.0 1272.0,801.0 1273.5,800.9 1275.0,800.9 1276.5,800.8 1278.0,800.8 1279.5,800.7 1281.0,800.6 1282.5,800.6 1284.0,800.5 1285.5,800.5 1287.0,800.4 1288.5,800.4 1290.0,800.3 1291.5,800.2 1293.0,800.2 1294.5,800.1 1296.0,800.1 1297.5,800.0 1299.0,800.0 1300.5,799.9 1302.0,799.9 1303.5,799.8 1305.0,799.8 1306.5,799.8 1308.0,799.7 1309.5,799.7 1311.0,799.6 1312.5,799.6 1314.0,799.5 1315.5,799.5 1317.0,799.4 1318.5,799.4 1320.0,799.3 1321.5,799.3 1323.0,799.2 1324.5,799.2 1326.0,799.1 1327.5,799.0 1329.0,798.9 1330.5,798.8 1332.0,798.7 1333.5,798.6 1335.0,798.4 1336.5,798.3 1338.0,798.1 1339.5,798.0 1341.0,797.8 1342.5,797.7 1344.0,797.5 1345.5,797.3 1347.0,797.1 1348.5,796.9 1350.0,796.7 1351.5,796.5 1353.0,796.3 1354.5,796.1 1356.0,795.9 1357.5,795.7 1359.0,795.5 1360.5,795.3 1362.0,795.1 1363.5,794.8 1365.0,794.6 1366.5,794.3 1368.0,794.0 1369.5,793.8 1371.0,793.5 1372.5,793.2 1374.0,792.9 1375.5,792.6 1377.0,792.3 1378.5,792.0 1380.0,791.7 1381.5,791.3 1383.0,791.0 1384.5,790.6 1386.0,790.3 1387.5,789.9 1389.0,789.5 1390.5,789.0 1392.0,788.6 1393.5,788.1 1395.0,787.6 1396.5,787.1 1398.0,786.6 1399.5,786.0 1401.0,785.4 1402.5,784.7 1404.0,784.1 1405.5,783.4 1407.0,782.7 1408.5,781.9 1410.0,781.2 1411.5,780.4 1413.0,779.6 1414.5,778.8 1416.0,777.9 1417.5,777.0 1419.0,776.1 1420.5,775.2 1422.0,774.3 1423.5,773.4 1425.0,772.6 1426.5,771.7 1428.0,771.0 1429.5,770.3 1431.0,769.6 1432.5,769.0 1434.0,768.4 1435.5,767.8 1437.0,767.3 1438.5,766.8 1440.0,766.5 1441.5,766.2 1443.0,766.0 1444.5,765.9 1446.0,765.9 1447.5,766.0 1449.0,766.1 1450.5,766.3 1452.0,766.7 1453.5,767.2 1455.0,767.8 1456.5,768.6 1458.0,769.3 1459.5,770.1 1461.0,771.0 1462.5,771.8 1464.0,772.6 1465.5,773.5 1467.0,774.4 1468.5,775.2 1470.0,776.1 1471.5,777.1 1473.0,778.0 1474.5,778.9 1476.0,779.9 1477.5,780.8 1479.0,781.7 1480.5,782.6 1482.0,783.5 1483.5,784.3 1485.0,785.1 1486.5,785.8 1488.0,786.4 1489.5,787.0 1491.0,787.6 1492.5,788.2 1494.0,788.7 1495.5,789.1 1497.0,789.6 1498.5,790.0 1500.0,790.4 1501.5,790.8 1503.0,791.2 1504.5,791.4 1506.0,791.7 1507.5,791.9 1509.0,792.0 1510.5,792.1 1512.0,792.2 1513.5,792.3 1515.0,792.4 1516.5,792.5 1518.0,792.6 1519.5,792.6 1521.0,792.7 1522.5,792.8 1524.0,792.8 1525.5,792.9 1527.0,792.9 1528.5,793.0 1530.0,793.0 1531.5,793.1 1533.0,793.1 1534.5,793.1 1536.0,793.1 1537.5,793.1 1539.0,793.1 1540.5,793.1 1542.0,793.1 1543.5,793.1 1545.0,793.1 1546.5,793.1 1548.0,793.1 1549.5,793.1 1551.0,793.1 1552.5,793.1 1554.0,793.1 1555.5,793.1 1557.0,793.1 1558.5,793.1 1560.0,793.1 1561.5,793.1 1563.0,793.0 1564.5,793.0 1566.0,793.0 1567.5,793.0 1569.0,793.0 1570.5,792.9 1572.0,792.9 1573.5,792.9 1575.0,792.8 1576.5,792.8 1578.0,792.7 1579.5,792.7 1581.0,792.6 1582.5,792.6 1584.0,792.5 1585.5,792.5 1587.0,792.4 1588.5,792.3 1590.0,792.1 1591.5,792.0 1593.0,791.8 1594.5,791.7 1596.0,791.5 1597.5,791.4 1599.0,791.2 1600.5,791.1 1602.0,790.9 1603.5,790.8 1605.0,790.7 1606.5,790.6 1608.0,790.5 1609.5,790.4 1611.0,790.4 1612.5,790.3 1614.0,790.2 1615.5,790.2 1617.0,790.1 1618.5,790.1 1620.0,790.0 1621.5,790.0 1623.0,790.0 1624.5,790.0 1626.0,790.0 1627.5,790.1 1629.0,790.1 1630.5,790.2 1632.0,790.3 1633.5,790.5 1635.0,790.6 1636.5,790.8 1638.0,791.0 1639.5,791.2 1641.0,791.5 1642.5,791.8 1644.0,792.0 1645.5,792.3 1647.0,792.7 1648.5,793.0 1650.0,793.3 1651.5,793.6 1653.0,793.9 1654.5,794.2 1656.0,794.5 1657.5,794.8 1659.0,795.1 1660.5,795.4 1662.0,795.7 1663.5,796.0 1665.0,796.2 1666.5,796.5 1668.0,796.8 1669.5,797.1 1671.0,797.3 1672.5,797.6 1674.0,797.9 1675.5,798.2 1677.0,798.4 1678.5,798.7 1680.0,798.9 1681.5,799.2 1687.5,800.2"/>
<polyline points="202.5,968.4 208.5,968.8 210.0,968.9 211.5,969.0 213.0,969.1 214.5,969.2 216.0,969.3 217.5,969.3 219.0,969.4 220.5,969.4 222.0,969.5 223.5,969.5 225.0,969.5 226.5,969.5 228.0,969.5 229.5,969.5 231.0,969.5 232.5,969.5 234.0,969.5 235.5,969.4 237.0,969.4 238.5,969.4 240.0,969.4 241.5,969.4 243.0,969.3 244.5,969.3 246.0,969.3 247.5,969.3 249.0,969.2 250.5,969.2 252.0,969.2 253.5,969.1 255.0,969.1 256.5,969.1 258.0,969.0 259.5,969.0 261.0,969.0 262.5,968.9 264.0,968.9 265.5,968.8 267.0,968.8 268.5,968.8 270.0,968.7 271.5,968.7 273.0,968.7 274.5,968.6 276.0,968.6 277.5,968.6 279.0,968.5 280.5,968.5 282.0,968.5 283.5,968.4 285.0,968.4 286.5,968.4 288.0,968.3 289.5,968.3 291.0,968.2 292.5,968.2 294.0,968.2 295.5,968.1 297.0,968.1 298.5,968.1 300.0,968.0 301.5,968.0 303.0,968.0 304.5,967.9 306.0,967.9 307.5,967.9 309.0,967.8 310.5,967.8 312.0,967.7 313.5,967.7 315.0,967.7 316.5,967.6 318.0,967.6 319.5,967.6 321.0,967.5 322.5,967.5 324.0,967.5 325.5,967.5 327.0,967.4 328.5,967.4 330.0,967.4 331.5,967.4 333.0,967.4 334.5,967.3 336.0,967.3 337.5,967.3 339.0,967.3 340.5,967.2 342.0,967.2 343.5,967.2 345.0,967.2 346.5,967.2 348.0,967.2 349.5,967.1 351.0,967.0 352.5,966.9 354.0,966.6 355.5,966.3 357.0,965.9 358.5,965.6 360.0,965.2 361.5,964.8 363.0,964.4 364.5,964.0 366.0,963.6 367.5,963.3 369.0,962.9 370.5,962.6 372.0,962.2 373.5,961.8 375.0,961.5 376.5,961.1 378.0,960.8 379.5,960.4 381.0,960.1 382.5,959.7 384.0,959.3 385.5,958.9 387.0,958.4 388.5,958.0 390.0,957.6 391.5,957.1 393.0,956.6 394.5,956.1 396.0,955.4 397.5,954.6 399.0,953.7 400.5,952.8 402.0,951.9 403.5,950.7 405.0,949.3 406.5,947.6 408.0,945.8 409.5,943.6 411.0,941.1 412.5,938.3 414.0,935.3 415.5,932.1 417.0,928.7 418.5,925.1 420.0,921.1 421.5,916.8 423.0,912.0 424.5,906.8 426.0,901.5 427.5,895.9 429.0,890.1 430.5,884.2 432.0,878.2 433.5,872.2 435.0,866.0 436.5,859.9 438.0,853.9 439.5,847.9 441.0,842.0 442.5,836.1 444.0,830.8 445.5,825.9 447.0,821.5 448.5,818.2 450.0,815.8 451.5,813.9 453.0,812.5 454.5,811.8 456.0,811.7 457.5,812.2 459.0,813.4 460.5,815.3 462.0,817.9 463.5,821.0 465.0,824.7 466.5,829.5 468.0,834.8 469.5,840.2 471.0,845.9 472.5,851.8 474.0,857.8 475.5,863.8 477.0,869.7 478.5,875.5 480.0,881.1 481.5,886.6 483.0,891.9 484.5,897.1 486.0,902.0 487.5,906.5 489.0,910.8 490.5,915.0 492.0,919.0 493.5,922.7 495.0,926.2 496.5,929.4 498.0,932.3 499.5,934.9 501.0,937.4 502.5,939.7 504.0,941.7 505.5,943.6 507.0,945.4 508.5,947.1 510.0,948.7 511.5,950.2 513.0,951.6 514.5,952.9 516.0,954.0 517.5,955.1 519.0,956.2 520.5,957.1 522.0,957.8 523.5,958.4 525.0,958.8 526.5,959.1 528.0,959.3 529.5,959.4 531.0,959.5 532.5,959.5 534.0,959.5 535.5,959.4 537.0,959.3 538.5,959.2 540.0,959.0 541.5,958.7 543.0,958.4 544.5,957.9 546.0,957.4 547.5,956.8 549.0,956.2 550.5,955.5 552.0,954.8 553.5,954.1 555.0,953.3 556.5,952.4 558.0,951.4 559.5,950.4 561.0,949.3 562.5,948.0 564.0,946.6 565.5,945.1 567.0,943.4 568.5,941.6 570.0,939.5 571.5,937.2 573.0,934.8 574.5,932.6 576.0,930.6 577.5,928.7 579.0,926.9 580.5,925.2 582.0,923.5 583.5,921.9 585.0,920.4 586.5,919.0 588.0,917.6 589.5,916.0 591.0,914.3 592.5,912.3 594.0,910.1 595.5,907.6 597.0,904.9 598.5,902.0 600.0,898.8 601.5,895.2 603.0,891.4 604.5,887.3 606.0,883.1 607.5,878.8 609.0,874.3 610.5,869.6 612.0,864.8 613.5,859.7 615.0,854.0 616.5,847.9 618.0,841.7 619.5,835.9 621.0,830.7 622.5,825.8 624.0,821.3 625.5,817.2 627.0,813.8 628.5,811.0 630.0,808.7 631.5,806.9 633.0,805.7 634.5,805.1 636.0,805.0 637.5,805.5 639.0,806.5 640.5,808.2 642.0,810.5 643.5,813.2 645.0,816.4 646.5,820.3 648.0,824.9 649.5,829.6 651.0,834.5 652.5,839.6 654.0,844.8 655.5,850.0 657.0,855.5 658.5,861.3 660.0,867.3 661.5,873.3 663.0,879.3 664.5,885.3 666.0,891.3 667.5,897.2 669.0,903.2 670.5,909.0 672.0,914.3 673.5,919.2 675.0,923.8 676.5,928.1 678.0,932.1 679.5,935.7 681.0,939.0 682.5,941.9 684.0,944.6 685.5,947.1 687.0,949.4 688.5,951.4 690.0,953.0 691.5,954.6 693.0,956.0 694.5,957.3 696.0,958.4 697.5,959.3 699.0,960.0 700.5,960.7 702.0,961.3 703.5,961.9 705.0,962.4 706.5,962.8 708.0,963.2 709.5,963.5 711.0,963.7 712.5,964.0 714.0,964.2 715.5,964.4 717.0,964.6 718.5,964.8 720.0,965.0 721.5,965.2 723.0,965.4 724.5,965.6 726.0,965.8 727.5,966.0 729.0,966.2 730.5,966.4 732.0,966.6 733.5,966.8 735.0,966.9 736.5,967.1 738.0,967.3 739.5,967.4 741.0,967.6 742.5,967.7 744.0,967.8 745.5,968.0 747.0,968.1 748.5,968.2 750.0,968.3 751.5,968.4 753.0,968.5 754.5,968.6 756.0,968.7 757.5,968.8 759.0,968.9 760.5,969.0 762.0,969.0 763.5,969.1 765.0,969.2 766.5,969.3 768.0,969.4 769.5,969.4 771.0,969.5 772.5,969.6 774.0,969.7 775.5,969.7 777.0,969.8 778.5,969.9 780.0,969.9 781.5,970.0 783.0,970.1 784.5,970.1 786.0,970.2 787.5,970.3 789.0,970.3 790.5,970.4 792.0,970.5 793.5,970.6 795.0,970.6 796.5,970.7 798.0,970.8 799.5,970.8 801.0,970.9 802.5,971.0 804.0,971.0 805.5,971.1 807.0,971.1 808.5,971.2 810.0,971.3 811.5,971.3 813.0,971.4 814.5,971.5 816.0,971.5 817.5,971.6 819.0,971.6 820.5,971.7 822.0,971.7 823.5,971.8 825.0,971.8 826.5,971.9 828.0,971.9 829.5,972.0 831.0,972.0 832.5,972.1 834.0,972.1 835.5,972.1 837.0,972.2 838.5,972.2 840.0,972.2 841.5,972.3 843.0,972.3 844.5,972.3 846.0,972.4 847.5,972.4 849.0,972.4 850.5,972.4 852.0,972.5 853.5,972.5 855.0,972.5 856.5,972.5 858.0,972.5 859.5,972.6 861.0,972.6 862.5,972.6 864.0,972.6 865.5,972.6 867.0,972.6 868.5,972.6 870.0,972.6 871.5,972.6 873.0,972.6 874.5,972.6 876.0,972.6 877.5,972.6 879.0,972.6 880.5,972.6 882.0,972.6 883.5,972.6 885.0,972.6 886.5,972.6 888.0,972.6 889.5,972.6 891.0,972.6 892.5,972.6 894.0,972.6 895.5,972.6 897.0,972.5 898.5,972.5 900.0,972.5 901.5,972.5 903.0,972.5 904.5,972.5 906.0,972.4 907.5,972.4 909.0,972.4 910.5,972.4 912.0,972.3 913.5,972.3 915.0,972.3 916.5,972.2 918.0,972.2 919.5,972.2 921.0,972.1 922.5,972.1 924.0,972.0 925.5,972.0 927.0,972.0 928.5,971.9 930.0,971.9 931.5,971.9 933.0,971.8 934.5,971.8 936.0,971.7 937.5,971.7 939.0,971.6 940.5,971.6 942.0,971.6 943.5,971.5 945.0,971.5 946.5,971.5 948.0,971.4 949.5,971.4 951.0,971.4 952.5,971.3 954.0,971.3 955.5,971.3 957.0,971.2 958.5,971.2 960.0,971.2 961.5,971.2 963.0,971.1 964.5,971.1 966.0,971.1 967.5,971.1 969.0,971.1 970.5,971.1 972.0,971.1 973.5,971.1 975.0,971.0 976.5,971.0 978.0,971.0 979.5,971.0 981.0,971.0 982.5,971.0 984.0,971.0 985.5,971.0 987.0,971.0 988.5,971.0 990.0,970.9 991.5,970.9 993.0,970.9 994.5,970.9 996.0,970.9 997.5,970.9 999.0,970.9 1000.5,970.9 1002.0,970.9 1003.5,970.9 1005.0,970.9 1006.5,970.9 1008.0,970.9 1009.5,970.9 1011.0,970.9 1012.5,970.9 1014.0,970.8 1015.5,970.8 1017.0,970.8 1018.5,970.8 1020.0,970.8 1021.5,970.8 1023.0,970.8 1024.5,970.8 1026.0,970.8 1027.5,970.8 1029.0,970.8 1030.5,970.8 1032.0,970.8 1033.5,970.8 1035.0,970.9 1036.5,970.9 1038.0,970.9 1039.5,970.9 1041.0,970.9 1042.5,970.9 1044.0,970.9 1045.5,970.9 1047.0,970.9 1048.5,970.9 1050.0,970.9 1051.5,970.9 1053.0,970.9 1054.5,971.0 1056.0,971.0 1057.5,971.0 1059.0,971.0 1060.5,971.0 1062.0,971.0 1063.5,971.0 1065.0,971.1 1066.5,971.1 1068.0,971.1 1069.5,971.1 1071.0,971.1 1072.5,971.2 1074.0,971.2 1075.5,971.2 1077.0,971.2 1078.5,971.2 1080.0,971.3 1081.5,971.3 1083.0,971.3 1084.5,971.3 1086.0,971.3 1087.5,971.4 1089.0,971.4 1090.5,971.4 1092.0,971.4 1093.5,971.5 1095.0,971.5 1096.5,971.5 1098.0,971.5 1099.5,971.6 1101.0,971.6 1102.5,971.6 1104.0,971.6 1105.5,971.7 1107.0,971.7 1108.5,971.7 1110.0,971.7 1111.5,971.7 1113.0,971.8 1114.5,971.8 1116.0,971.8 1117.5,971.8 1119.0,971.9 1120.5,971.9 1122.0,971.9 1123.5,971.9 1125.0,972.0 1126.5,972.0 1128.0,972.0 1129.5,972.0 1131.0,972.0 1132.5,972.1 1134.0,972.1 1135.5,972.1 1137.0,972.1 1138.5,972.1 1140.0,972.2 1141.5,972.2 1143.0,972.2 1144.5,972.2 1146.0,972.3 1147.5,972.3 1149.0,972.3 1150.5,972.3 1152.0,972.3 1153.5,972.4 1155.0,972.4 1156.5,972.4 1158.0,972.4 1159.5,972.4 1161.0,972.4 1162.5,972.5 1164.0,972.5 1165.5,972.5 1167.0,972.5 1168.5,972.5 1170.0,972.5 1171.5,972.5 1173.0,972.5 1174.5,972.5 1176.0,972.5 1177.5,972.5 1179.0,972.5 1180.5,972.5 1182.0,972.4 1183.5,972.4 1185.0,972.4 1186.5,972.4 1188.0,972.3 1189.5,972.3 1191.0,972.3 1192.5,972.3 1194.0,972.2 1195.5,972.2 1197.0,972.1 1198.5,972.1 1200.0,972.1 1201.5,972.0 1203.0,972.0 1204.5,971.9 1206.0,971.9 1207.5,971.8 1209.0,971.8 1210.5,971.7 1212.0,971.7 1213.5,971.6 1215.0,971.6 1216.5,971.5 1218.0,971.4 1219.5,971.4 1221.0,971.3 1222.5,971.3 1224.0,971.2 1225.5,971.2 1227.0,971.1 1228.5,971.1 1230.0,971.0 1231.5,970.9 1233.0,970.9 1234.5,970.8 1236.0,970.8 1237.5,970.7 1239.0,970.7 1240.5,970.6 1242.0,970.6 1243.5,970.5 1245.0,970.4 1246.5,970.4 1248.0,970.3 1249.5,970.2 1251.0,970.2 1252.5,970.1 1254.0,970.1 1255.5,970.0 1257.0,969.9 1258.5,969.9 1260.0,969.8 1261.5,969.8 1263.0,969.7 1264.5,969.6 1266.0,969.6 1267.5,969.5 1269.0,969.5 1270.5,969.5 1272.0,969.4 1273.5,969.4 1275.0,969.3 1276.5,969.3 1278.0,969.3 1279.5,969.2 1281.0,969.2 1282.5,969.2 1284.0,969.1 1285.5,969.1 1287.0,969.1 1288.5,969.0 1290.0,969.0 1291.5,969.0 1293.0,968.9 1294.5,968.9 1296.0,968.9 1297.5,968.9 1299.0,968.8 1300.5,968.8 1302.0,968.8 1303.5,968.8 1305.0,968.7 1306.5,968.7 1308.0,968.7 1309.5,968.7 1311.0,968.6 1312.5,968.6 1314.0,968.6 1315.5,968.5 1317.0,968.5 1318.5,968.4 1320.0,968.4 1321.5,968.3 1323.0,968.2 1324.5,968.1 1326.0,967.9 1327.5,967.8 1329.0,967.6 1330.5,967.5 1332.0,967.3 1333.5,967.1 1335.0,966.9 1336.5,966.7 1338.0,966.5 1339.5,966.3 1341.0,966.1 1342.5,965.9 1344.0,965.7 1345.5,965.4 1347.0,965.2 1348.5,965.0 1350.0,964.8 1351.5,964.6 1353.0,964.3 1354.5,964.1 1356.0,963.9 1357.5,963.6 1359.0,963.4 1360.5,963.1 1362.0,962.9 1363.5,962.6 1365.0,962.4 1366.5,962.1 1368.0,961.8 1369.5,961.5 1371.0,961.3 1372.5,961.0 1374.0,960.7 1375.5,960.4 1377.0,960.1 1378.5,959.8 1380.0,959.5 1381.5,959.1 1383.0,958.8 1384.5,958.4 1386.0,958.1 1387.5,957.7 1389.0,957.3 1390.5,956.9 1392.0,956.4 1393.5,956.0 1395.0,955.5 1396.5,955.1 1398.0,954.6 1399.5,954.1 1401.0,953.6 1402.5,953.1 1404.0,952.6 1405.5,952.2 1407.0,951.7 1408.5,951.2 1410.0,950.8 1411.5,950.3 1413.0,949.9 1414.5,949.5 1416.0,949.0 1417.5,948.6 1419.0,948.2 1420.5,947.7 1422.0,947.3 1423.5,946.9 1425.0,946.5 1426.5,946.2 1428.0,945.9 1429.5,945.7 1431.0,945.5 1432.5,945.3 1434.0,945.1 1435.5,945.0 1437.0,944.8 1438.5,944.7 1440.0,944.6 1441.5,944.6 1443.0,944.7 1444.5,944.8 1446.0,945.0 1447.5,945.2 1449.0,945.5 1450.5,945.8 1452.0,946.2 1453.5,946.6 1455.0,947.0 1456.5,947.4 1458.0,947.9 1459.5,948.4 1461.0,948.9 1462.5,949.4 1464.0,949.9 1465.5,950.4 1467.0,951.0 1468.5,951.5 1470.0,952.0 1471.5,952.5 1473.0,953.1 1474.5,953.6 1476.0,954.1 1477.5,954.6 1479.0,955.1 1480.5,955.6 1482.0,956.1 1483.5,956.6 1485.0,957.0 1486.5,957.5 1488.0,958.0 1489.5,958.4 1491.0,958.9 1492.5,959.3 1494.0,959.8 1495.5,960.2 1497.0,960.6 1498.5,961.0 1500.0,961.4 1501.5,961.7 1503.0,962.0 1504.5,962.2 1506.0,962.4 1507.5,962.6 1509.0,962.7 1510.5,962.8 1512.0,962.9 1513.5,963.0 1515.0,963.1 1516.5,963.1 1518.0,963.2 1519.5,963.3 1521.0,963.3 1522.5,963.4 1524.0,963.4 1525.5,963.5 1527.0,963.5 1528.5,963.5 1530.0,963.6 1531.5,963.6 1533.0,963.6 1534.5,963.7 1536.0,963.7 1537.5,963.7 1539.0,963.8 1540.5,963.8 1542.0,963.9 1543.5,963.9 1545.0,963.9 1546.5,963.9 1548.0,964.0 1549.5,964.0 1551.0,964.0 1552.5,964.0 1554.0,964.0 1555.5,964.0 1557.0,964.0 1558.5,964.0 1560.0,964.0 1561.5,964.0 1563.0,963.9 1564.5,963.9 1566.0,963.9 1567.5,963.8 1569.0,963.8 1570.5,963.7 1572.0,963.7 1573.5,963.6 1575.0,963.6 1576.5,963.5 1578.0,963.4 1579.5,963.4 1581.0,963.3 1582.5,963.2 1584.0,963.1 1585.5,963.1 1587.0,963.0 1588.5,962.9 1590.0,962.8 1591.5,962.7 1593.0,962.6 1594.5,962.5 1596.0,962.5 1597.5,962.4 1599.0,962.3 1600.5,962.2 1602.0,962.1 1603.5,962.0 1605.0,961.9 1606.5,961.8 1608.0,961.7 1609.5,961.6 1611.0,961.5 1612.5,961.4 1614.0,961.3 1615.5,961.2 1617.0,961.1 1618.5,961.0 1620.0,960.9 1621.5,960.9 1623.0,960.8 1624.5,960.9 1626.0,961.0 1627.5,961.1 1629.0,961.2 1630.5,961.4 1632.0,961.6 1633.5,961.8 1635.0,962.0 1636.5,962.2 1638.0,962.5 1639.5,962.7 1641.0,962.9 1642.5,963.2 1644.0,963.4 1645.5,963.7 1647.0,964.0 1648.5,964.2 1650.0,964.5 1651.5,964.7 1653.0,965.0 1654.5,965.2 1656.0,965.4 1657.5,965.7 1659.0,965.9 1660.5,966.1 1662.0,966.4 1663.5,966.6 1665.0,966.8 1666.5,967.0 1668.0,967.3 1669.5,967.5 1671.0,967.7 1672.5,967.9 1674.0,968.1 1675.5,968.4 1677.0,968.6 1678.5,968.8 1680.0,969.0 1681.5,969.2 1687.5,970.0"/>
<polyline points="202.5,1141.3 208.5,1141.4 210.0,1141.4 211.5,1141.5 213.0,1141.5 214.5,1141.5 216.0,1141.5 217.5,1141.5 219.0,1141.5 220.5,1141.4 222.0,1141.4 223.5,1141.3 225.0,1141.2 226.5,1141.2 228.0,1141.1 229.5,1140.9 231.0,1140.8 232.5,1140.7 234.0,1140.5 235.5,1140.3 237.0,1140.1 238.5,1139.8 240.0,1139.6 241.5,1139.4 243.0,1139.2 244.5,1139.0 246.0,1138.9 247.5,1138.8 249.0,1138.6 250.5,1138.5 252.0,1138.4 253.5,1138.3 255.0,1138.2 256.5,1138.1 258.0,1138.0 259.5,1137.9 261.0,1137.8 262.5,1137.7 264.0,1137.6 265.5,1137.6 267.0,1137.5 268.5,1137.4 270.0,1137.4 271.5,1137.3 273.0,1137.3 274.5,1137.2 276.0,1137.2 277.5,1137.2 279.0,1137.1 280.5,1137.1 282.0,1137.1 283.5,1137.1 285.0,1137.1 286.5,1137.1 288.0,1137.1 289.5,1137.2 291.0,1137.2 292.5,1137.2 294.0,1137.3 295.5,1137.3 297.0,1137.4 298.5,1137.5 300.0,1137.6 301.5,1137.7 303.0,1137.8 304.5,1137.8 306.0,1137.8 307.5,1137.7 309.0,1137.6 310.5,1137.5 312.0,1137.4 313.5,1137.2 315.0,1137.1 316.5,1137.0 318.0,1136.9 319.5,1136.8 321.0,1136.8 322.5,1136.8 324.0,1136.9 325.5,1137.0 327.0,1137.2 328.5,1137.3 330.0,1137.4 331.5,1137.6 333.0,1137.7 334.5,1137.8 336.0,1137.8 337.5,1137.8 339.0,1137.7 340.5,1137.7 342.0,1137.6 343.5,1137.5 345.0,1137.4 346.5,1137.2 348.0,1137.1 349.5,1137.0 351.0,1136.8 352.5,1136.7 354.0,1136.6 355.5,1136.5 357.0,1136.4 358.5,1136.4 360.0,1136.4 361.5,1136.5 363.0,1136.5 364.5,1136.6 366.0,1136.7 367.5,1136.7 369.0,1136.8 370.5,1136.9 372.0,1136.9 373.5,1137.0 375.0,1137.0 376.5,1137.0 378.0,1136.9 379.5,1136.8 381.0,1136.7 382.5,1136.5 384.0,1136.1 385.5,1135.4 387.0,1134.6 388.5,1133.8 390.0,1132.9 391.5,1132.0 393.0,1131.1 394.5,1130.2 396.0,1129.2 397.5,1128.1 399.0,1126.8 400.5,1125.4 402.0,1123.9 403.5,1122.2 405.0,1120.5 406.5,1118.6 408.0,1116.6 409.5,1114.5 411.0,1112.2 412.5,1109.7 414.0,1106.9 415.5,1103.9 417.0,1100.7 418.5,1097.4 420.0,1094.0 421.5,1090.6 423.0,1087.0 424.5,1083.1 426.0,1078.8 427.5,1074.0 429.0,1068.8 430.5,1063.1 432.0,1057.2 433.5,1051.1 435.0,1044.9 436.5,1038.8 438.0,1032.8 439.5,1026.9 441.0,1021.0 442.5,1015.2 444.0,1009.8 445.5,1004.8 447.0,1000.2 448.5,996.5 450.0,993.5 451.5,991.0 453.0,989.0 454.5,987.7 456.0,986.9 457.5,986.7 459.0,987.0 460.5,987.8 462.0,989.2 463.5,991.2 465.0,993.6 466.5,996.4 468.0,999.9 469.5,1004.1 471.0,1008.9 472.5,1013.9 474.0,1019.1 475.5,1024.4 477.0,1030.0 478.5,1035.6 480.0,1041.2 481.5,1046.6 483.0,1051.6 484.5,1056.4 486.0,1060.8 487.5,1065.0 489.0,1069.0 490.5,1072.8 492.0,1076.4 493.5,1079.7 495.0,1082.9 496.5,1085.9 498.0,1088.8 499.5,1091.4 501.0,1093.9 502.5,1096.0 504.0,1098.0 505.5,1099.7 507.0,1101.4 508.5,1102.9 510.0,1104.3 511.5,1105.6 513.0,1106.7 514.5,1107.8 516.0,1108.8 517.5,1109.8 519.0,1110.8 520.5,1111.7 522.0,1112.4 523.5,1113.1 525.0,1113.7 526.5,1114.2 528.0,1114.7 529.5,1115.1 531.0,1115.5 532.5,1115.8 534.0,1116.1 535.5,1116.3 537.0,1116.5 538.5,1116.7 540.0,1116.8 541.5,1116.9 543.0,1116.9 544.5,1116.8 546.0,1116.6 547.5,1116.4 549.0,1116.1 550.5,1115.8 552.0,1115.5 553.5,1115.1 555.0,1114.7 556.5,1114.3 558.0,1113.8 559.5,1113.3 561.0,1112.8 562.5,1112.2 564.0,1111.6 565.5,1111.0 567.0,1110.3 568.5,1109.6 570.0,1108.7 571.5,1107.8 573.0,1106.9 574.5,1105.8 576.0,1104.8 577.5,1103.6 579.0,1102.4 580.5,1101.1 582.0,1099.7 583.5,1098.2 585.0,1096.6 586.5,1094.9 588.0,1093.2 589.5,1091.5 591.0,1089.6 592.5,1087.5 594.0,1085.2 595.5,1082.8 597.0,1080.3 598.5,1077.7 600.0,1074.8 601.5,1071.6 603.0,1068.1 604.5,1064.3 606.0,1060.1 607.5,1055.7 609.0,1050.9 610.5,1045.7 612.0,1040.2 613.5,1034.4 615.0,1028.2 616.5,1021.9 618.0,1015.9 619.5,1010.2 621.0,1004.7 622.5,999.5 624.0,994.8 625.5,990.7 627.0,987.2 628.5,984.1 630.0,981.2 631.5,978.8 633.0,976.8 634.5,975.4 636.0,974.6 637.5,974.4 639.0,974.7 640.5,975.5 642.0,976.8 643.5,978.5 645.0,980.7 646.5,983.5 648.0,987.0 649.5,991.1 651.0,995.6 652.5,1000.7 654.0,1006.4 655.5,1012.4 657.0,1018.4 658.5,1024.6 660.0,1030.8 661.5,1037.1 663.0,1043.4 664.5,1049.6 666.0,1055.9 667.5,1062.2 669.0,1068.5 670.5,1074.8 672.0,1080.7 673.5,1086.2 675.0,1091.2 676.5,1096.1 678.0,1100.6 679.5,1104.7 681.0,1108.5 682.5,1111.9 684.0,1115.0 685.5,1117.8 687.0,1120.2 688.5,1122.4 690.0,1124.2 691.5,1125.8 693.0,1127.4 694.5,1128.8 696.0,1130.0 697.5,1130.9 699.0,1131.6 700.5,1132.3 702.0,1132.9 703.5,1133.5 705.0,1134.0 706.5,1134.4 708.0,1134.8 709.5,1135.1 711.0,1135.3 712.5,1135.6 714.0,1135.8 715.5,1136.0 717.0,1136.2 718.5,1136.4 720.0,1136.6 721.5,1136.8 723.0,1137.0 724.5,1137.1 726.0,1137.3 727.5,1137.5 729.0,1137.6 730.5,1137.8 732.0,1137.9 733.5,1138.1 735.0,1138.2 736.5,1138.3 738.0,1138.4 739.5,1138.5 741.0,1138.5 742.5,1138.6 744.0,1138.6 745.5,1138.6 747.0,1138.6 748.5,1138.5 750.0,1138.5 751.5,1138.4 753.0,1138.4 754.5,1138.3 756.0,1138.2 757.5,1138.1 759.0,1138.0 760.5,1137.9 762.0,1137.8 763.5,1137.7 765.0,1137.6 766.5,1137.5 768.0,1137.4 769.5,1137.3 771.0,1137.2 772.5,1137.1 774.0,1137.0 775.5,1136.9 777.0,1136.9 778.5,1136.8 780.0,1136.8 781.5,1136.8 783.0,1136.8 784.5,1136.8 786.0,1136.8 787.5,1136.9 789.0,1136.9 790.5,1137.0 792.0,1137.0 793.5,1137.1 795.0,1137.1 796.5,1137.2 798.0,1137.2 799.5,1137.3 801.0,1137.4 802.5,1137.5 804.0,1137.6 805.5,1137.6 807.0,1137.7 808.5,1137.8 810.0,1137.9 811.5,1138.0 813.0,1138.1 814.5,1138.2 816.0,1138.3 817.5,1138.4 819.0,1138.5 820.5,1138.5 822.0,1138.6 823.5,1138.7 825.0,1138.8 826.5,1138.9 828.0,1139.0 829.5,1139.0 831.0,1139.1 832.5,1139.2 834.0,1139.2 835.5,1139.3 837.0,1139.3 838.5,1139.4 840.0,1139.4 841.5,1139.5 843.0,1139.5 844.5,1139.5 846.0,1139.5 847.5,1139.5 849.0,1139.5 850.5,1139.5 852.0,1139.5 853.5,1139.5 855.0,1139.4 856.5,1139.4 858.0,1139.4 859.5,1139.3 861.0,1139.3 862.5,1139.3 864.0,1139.2 865.5,1139.2 867.0,1139.1 868.5,1139.1 870.0,1139.0 871.5,1139.0 873.0,1138.9 874.5,1138.9 876.0,1138.8 877.5,1138.8 879.0,1138.7 880.5,1138.6 882.0,1138.6 883.5,1138.5 885.0,1138.4 886.5,1138.4 888.0,1138.3 889.5,1138.2 891.0,1138.2 892.5,1138.1 894.0,1138.1 895.5,1138.0 897.0,1137.9 898.5,1137.9 900.0,1137.8 901.5,1137.7 903.0,1137.7 904.5,1137.6 906.0,1137.5 907.5,1137.5 909.0,1137.4 910.5,1137.4 912.0,1137.3 913.5,1137.3 915.0,1137.2 916.5,1137.2 918.0,1137.1 919.5,1137.1 921.0,1137.0 922.5,1137.0 924.0,1137.0 925.5,1136.9 927.0,1136.9 928.5,1136.9 930.0,1136.8 931.5,1136.8 933.0,1136.8 934.5,1136.8 936.0,1136.8 937.5,1136.8 939.0,1136.8 940.5,1136.8 942.0,1136.7 943.5,1136.7 945.0,1136.7 946.5,1136.7 948.0,1136.7 949.5,1136.7 951.0,1136.7 952.5,1136.7 954.0,1136.7 955.5,1136.6 957.0,1136.6 958.5,1136.6 960.0,1136.6 961.5,1136.6 963.0,1136.6 964.5,1136.6 966.0,1136.6 967.5,1136.6 969.0,1136.6 970.5,1136.6 972.0,1136.5 973.5,1136.5 975.0,1136.5 976.5,1136.5 978.0,1136.5 979.5,1136.5 981.0,1136.5 982.5,1136.5 984.0,1136.5 985.5,1136.5 987.0,1136.5 988.5,1136.5 990.0,1136.5 991.5,1136.5 993.0,1136.5 994.5,1136.5 996.0,1136.5 997.5,1136.5 999.0,1136.5 1000.5,1136.5 1002.0,1136.5 1003.5,1136.5 1005.0,1136.5 1006.5,1136.5 1008.0,1136.5 1009.5,1136.5 1011.0,1136.5 1012.5,1136.5 1014.0,1136.5 1015.5,1136.5 1017.0,1136.5 1018.5,1136.5 1020.0,1136.5 1021.5,1136.5 1023.0,1136.5 1024.5,1136.5 1026.0,1136.5 1027.5,1136.5 1029.0,1136.5 1030.5,1136.5 1032.0,1136.5 1033.5,1136.5 1035.0,1136.5 1036.5,1136.5 1038.0,1136.5 1039.5,1136.5 1041.0,1136.6 1042.5,1136.6 1044.0,1136.6 1045.5,1136.6 1047.0,1136.6 1048.5,1136.6 1050.0,1136.6 1051.5,1136.6 1053.0,1136.6 1054.5,1136.7 1056.0,1136.7 1057.5,1136.7 1059.0,1136.7 1060.5,1136.7 1062.0,1136.7 1063.5,1136.7 1065.0,1136.8 1066.5,1136.8 1068.0,1136.8 1069.5,1136.8 1071.0,1136.8 1072.5,1136.9 1074.0,1136.9 1075.5,1136.9 1077.0,1137.0 1078.5,1137.0 1080.0,1137.0 1081.5,1137.1 1083.0,1137.1 1084.5,1137.2 1086.0,1137.2 1087.5,1137.3 1089.0,1137.3 1090.5,1137.4 1092.0,1137.4 1093.5,1137.5 1095.0,1137.5 1096.5,1137.6 1098.0,1137.6 1099.5,1137.7 1101.0,1137.7 1102.5,1137.8 1104.0,1137.8 1105.5,1137.9 1107.0,1137.9 1108.5,1137.9 1110.0,1138.0 1111.5,1138.0 1113.0,1138.0 1114.5,1138.0 1116.0,1138.1 1117.5,1138.1 1119.0,1138.1 1120.5,1138.1 1122.0,1138.1 1123.5,1138.1 1125.0,1138.1 1126.5,1138.1 1128.0,1138.1 1129.5,1138.1 1131.0,1138.1 1132.5,1138.1 1134.0,1138.1 1135.5,1138.1 1137.0,1138.1 1138.5,1138.1 1140.0,1138.1 1141.5,1138.0 1143.0,1138.0 1144.5,1138.0 1146.0,1138.0 1147.5,1138.0 1149.0,1138.0 1150.5,1138.0 1152.0,1138.0 1153.5,1138.0 1155.0,1138.0 1156.5,1138.0 1158.0,1137.9 1159.5,1137.9 1161.0,1137.9 1162.5,1137.9 1164.0,1137.9 1165.5,1137.9 1167.0,1137.9 1168.5,1137.9 1170.0,1137.8 1171.5,1137.8 1173.0,1137.8 1174.5,1137.8 1176.0,1137.8 1177.5,1137.8 1179.0,1137.8 1180.5,1137.7 1182.0,1137.7 1183.5,1137.7 1185.0,1137.7 1186.5,1137.7 1188.0,1137.7 1189.5,1137.6 1191.0,1137.6 1192.5,1137.6 1194.0,1137.6 1195.5,1137.6 1197.0,1137.6 1198.5,1137.5 1200.0,1137.5 1201.5,1137.5 1203.0,1137.5 1204.5,1137.5 1206.0,1137.5 1207.5,1137.4 1209.0,1137.4 1210.5,1137.4 1212.0,1137.4 1213.5,1137.4 1215.0,1137.4 1216.5,1137.3 1218.0,1137.3 1219.5,1137.3 1221.0,1137.3 1222.5,1137.3 1224.0,1137.2 1225.5,1137.2 1227.0,1137.2 1228.5,1137.2 1230.0,1137.2 1231.5,1137.1 1233.0,1137.1 1234.5,1137.1 1236.0,1137.1 1237.5,1137.1 1239.0,1137.0 1240.5,1137.0 1242.0,1137.0 1243.5,1137.0 1245.0,1136.9 1246.5,1136.9 1248.0,1136.9 1249.5,1136.9 1251.0,1136.8 1252.5,1136.8 1254.0,1136.8 1255.5,1136.7 1257.0,1136.7 1258.5,1136.7 1260.0,1136.6 1261.5,1136.6 1263.0,1136.6 1264.5,1136.5 1266.0,1136.5 1267.5,1136.4 1269.0,1136.4 1270.5,1136.4 1272.0,1136.3 1273.5,1136.3 1275.0,1136.2 1276.5,1136.2 1278.0,1136.2 1279.5,1136.1 1281.0,1136.1 1282.5,1136.0 1284.0,1136.0 1285.5,1135.9 1287.0,1135.9 1288.5,1135.8 1290.0,1135.8 1291.5,1135.8 1293.0,1135.7 1294.5,1135.7 1296.0,1135.6 1297.5,1135.6 1299.0,1135.5 1300.5,1135.5 1302.0,1135.4 1303.5,1135.4 1305.0,1135.3 1306.5,1135.3 1308.0,1135.2 1309.5,1135.2 1311.0,1135.1 1312.5,1135.1 1314.0,1135.0 1315.5,1135.0 1317.0,1134.9 1318.5,1134.9 1320.0,1134.8 1321.5,1134.8 1323.0,1134.7 1324.5,1134.7 1326.0,1134.6 1327.5,1134.6 1329.0,1134.5 1330.5,1134.4 1332.0,1134.4 1333.5,1134.3 1335.0,1134.3 1336.5,1134.2 1338.0,1134.1 1339.5,1134.1 1341.0,1134.0 1342.5,1133.9 1344.0,1133.9 1345.5,1133.8 1347.0,1133.7 1348.5,1133.6 1350.0,1133.5 1351.5,1133.4 1353.0,1133.4 1354.5,1133.3 1356.0,1133.2 1357.5,1133.1 1359.0,1132.9 1360.5,1132.8 1362.0,1132.6 1363.5,1132.4 1365.0,1132.1 1366.5,1131.9 1368.0,1131.6 1369.5,1131.3 1371.0,1131.0 1372.5,1130.7 1374.0,1130.3 1375.5,1130.0 1377.0,1129.6 1378.5,1129.3 1380.0,1128.9 1381.5,1128.6 1383.0,1128.2 1384.5,1127.8 1386.0,1127.4 1387.5,1127.0 1389.0,1126.6 1390.5,1126.2 1392.0,1125.8 1393.5,1125.3 1395.0,1124.9 1396.5,1124.4 1398.0,1123.9 1399.5,1123.4 1401.0,1122.8 1402.5,1122.3 1404.0,1121.7 1405.5,1121.1 1407.0,1120.5 1408.5,1120.0 1410.0,1119.4 1411.5,1118.9 1413.0,1118.3 1414.5,1117.8 1416.0,1117.3 1417.5,1116.9 1419.0,1116.4 1420.5,1116.0 1422.0,1115.6 1423.5,1115.2 1425.0,1114.8 1426.5,1114.4 1428.0,1114.0 1429.5,1113.6 1431.0,1113.3 1432.5,1113.0 1434.0,1112.8 1435.5,1112.6 1437.0,1112.5 1438.5,1112.4 1440.0,1112.4 1441.5,1112.4 1443.0,1112.4 1444.5,1112.5 1446.0,1112.6 1447.5,1112.8 1449.0,1113.1 1450.5,1113.4 1452.0,1113.7 1453.5,1114.1 1455.0,1114.5 1456.5,1115.0 1458.0,1115.5 1459.5,1116.0 1461.0,1116.5 1462.5,1117.0 1464.0,1117.5 1465.5,1118.0 1467.0,1118.5 1468.5,1119.0 1470.0,1119.5 1471.5,1120.1 1473.0,1120.6 1474.5,1121.1 1476.0,1121.7 1477.5,1122.3 1479.0,1122.9 1480.5,1123.5 1482.0,1124.1 1483.5,1124.6 1485.0,1125.2 1486.5,1125.8 1488.0,1126.3 1489.5,1126.8 1491.0,1127.3 1492.5,1127.8 1494.0,1128.2 1495.5,1128.5 1497.0,1128.8 1498.5,1129.0 1500.0,1129.2 1501.5,1129.4 1503.0,1129.5 1504.5,1129.7 1506.0,1129.8 1507.5,1129.9 1509.0,1130.0 1510.5,1130.1 1512.0,1130.2 1513.5,1130.3 1515.0,1130.4 1516.5,1130.5 1518.0,1130.6 1519.5,1130.6 1521.0,1130.7 1522.5,1130.8 1524.0,1130.9 1525.5,1131.0 1527.0,1131.0 1528.5,1131.1 1530.0,1131.2 1531.5,1131.2 1533.0,1131.3 1534.5,1131.4 1536.0,1131.4 1537.5,1131.5 1539.0,1131.6 1540.5,1131.6 1542.0,1131.7 1543.5,1131.7 1545.0,1131.8 1546.5,1131.8 1548.0,1131.8 1549.5,1131.8 1551.0,1131.8 1552.5,1131.8 1554.0,1131.8 1555.5,1131.8 1557.0,1131.7 1558.5,1131.6 1560.0,1131.6 1561.5,1131.5 1563.0,1131.4 1564.5,1131.3 1566.0,1131.2 1567.5,1131.0 1569.0,1130.9 1570.5,1130.8 1572.0,1130.6 1573.5,1130.4 1575.0,1130.3 1576.5,1130.1 1578.0,1129.9 1579.5,1129.8 1581.0,1129.6 1582.5,1129.4 1584.0,1129.3 1585.5,1129.1 1587.0,1128.9 1588.5,1128.8 1590.0,1128.6 1591.5,1128.4 1593.0,1128.3 1594.5,1128.1 1596.0,1127.9 1597.5,1127.7 1599.0,1127.5 1600.5,1127.4 1602.0,1127.2 1603.5,1127.1 1605.0,1127.0 1606.5,1126.9 1608.0,1126.9 1609.5,1126.9 1611.0,1126.9 1612.5,1127.0 1614.0,1127.1 1615.5,1127.2 1617.0,1127.3 1618.5,1127.5 1620.0,1127.6 1621.5,1127.7 1623.0,1127.9 1624.5,1128.0 1626.0,1128.1 1627.5,1128.2 1629.0,1128.3 1630.5,1128.4 1632.0,1128.5 1633.5,1128.6 1635.0,1128.8 1636.5,1128.9 1638.0,1129.1 1639.5,1129.3 1641.0,1129.6 1642.5,1130.1 1644.0,1130.6 1645.5,1131.1 1647.0,1131.6 1648.5,1132.1 1650.0,1132.6 1651.5,1133.1 1653.0,1133.5 1654.5,1133.9 1656.0,1134.2 1657.5,1134.6 1659.0,1135.0 1660.5,1135.4 1662.0,1135.7 1663.5,1136.1 1665.0,1136.4 1666.5,1136.8 1668.0,1137.1 1669.5,1137.4 1671.0,1137.6 1672.5,1137.9 1674.0,1138.2 1675.5,1138.4 1677.0,1138.6 1678.5,1138.8 1680.0,1139.0 1681.5,1139.2 1687.5,1139.9"/>
</g>
<g font-family="Liberation Sans, Arial, sans-serif" fill="#000" stroke="#000" stroke-width="0.6" stroke-linejoin="round" shape-rendering="geometricPrecision">
<text transform="translate(207.7 1315.0) scale(1 1.03)" font-size="78" text-anchor="middle">1000</text>
<text transform="translate(576.0 1315.0) scale(1 1.03)" font-size="78" text-anchor="middle">1500</text>
<text transform="translate(944.2 1315.0) scale(1 1.03)" font-size="78" text-anchor="middle">2000</text>
<text transform="translate(1312.5 1315.0) scale(1 1.03)" font-size="78" text-anchor="middle">2500</text>
<text transform="translate(1680.7 1315.0) scale(1 1.03)" font-size="78" text-anchor="middle">3000</text>
<text transform="translate(478.4 121.2) scale(1 1.03)" font-size="78">D</text>
<text transform="translate(664.3 166.8) scale(1 1.03)" font-size="78">G</text>
<text transform="translate(1393.4 220.6) scale(1 1.03)" font-size="78">2D</text>
<text transform="translate(962.5 266.6) scale(1 1.03)" font-size="62.2">100mW</text>
<text transform="translate(973.3 432.8) scale(1 1.03)" font-size="62.2">90mW</text>
<text transform="translate(984.3 603.9) scale(1 1.03)" font-size="62.2">80mW</text>
<text transform="translate(981.6 777.8) scale(1 1.03)" font-size="62.2">70mW</text>
<text transform="translate(981.3 940.4) scale(1 1.03)" font-size="62.2">60mW</text>
<text transform="translate(978.6 1107.6) scale(1 1.03)" font-size="62.2">50mW</text>
<text transform="translate(573.4 1463.7) scale(1 1.03)" font-size="89.5">Raman Shift (cm<tspan font-size="55" dy="-41.7">-1</tspan><tspan dy="41.7">)</tspan></text>
<text transform="translate(92.0 949.3) rotate(-90) scale(1 1.03)" font-size="89.8">Intensity (a.u.)</text>
</g>
</svg>
</body></html>
